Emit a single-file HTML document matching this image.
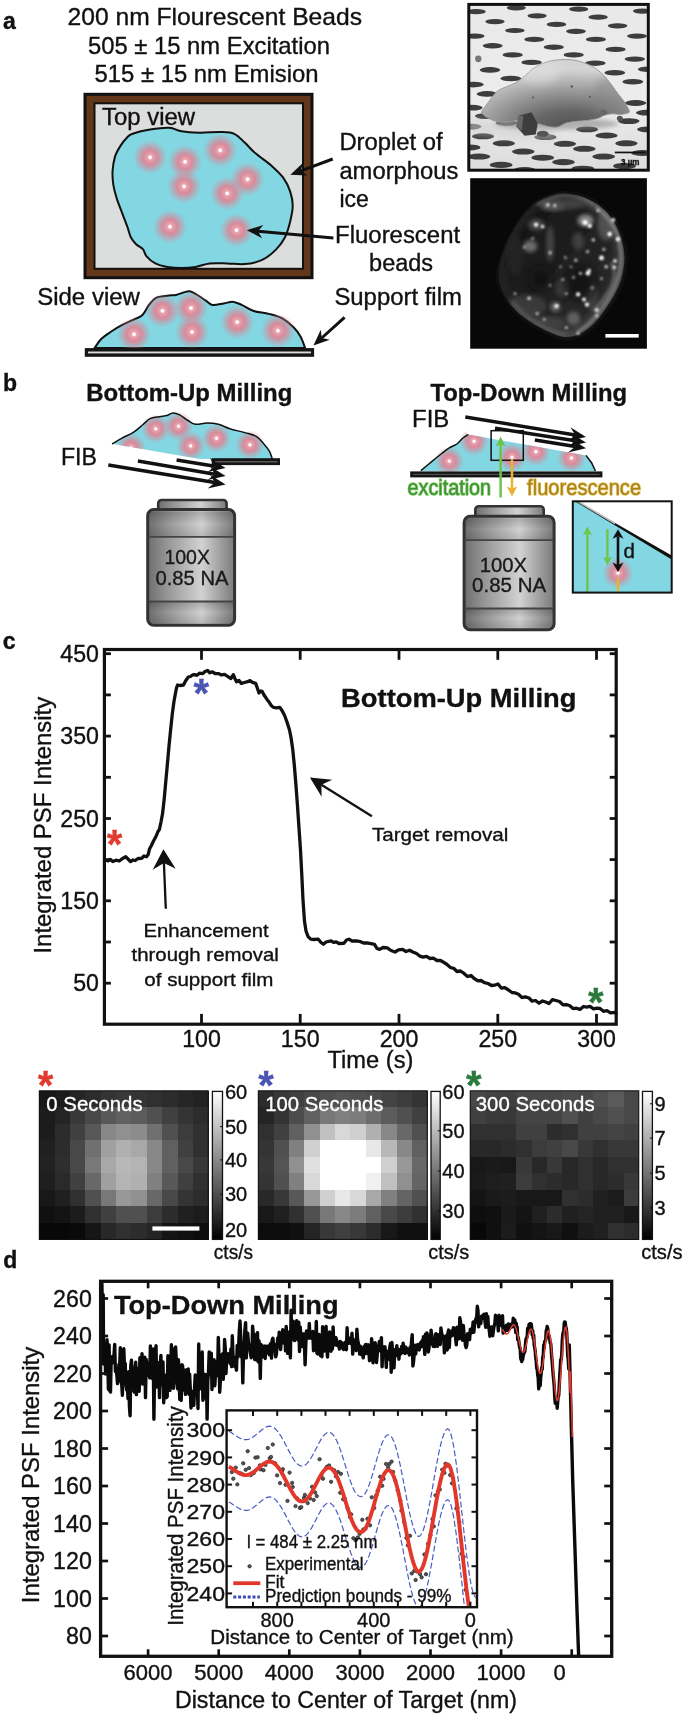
<!DOCTYPE html>
<html><head><meta charset="utf-8"><title>Figure</title>
<style>
html,body{margin:0;padding:0;background:#fff}
svg{display:block;font-family:"Liberation Sans",Arial,Helvetica,sans-serif;will-change:transform}
</style></head><body>
<svg width="685" height="1717" viewBox="0 0 685 1717">
<defs>
<radialGradient id="bead"><stop offset="0" stop-color="#fff"/><stop offset="0.07" stop-color="#fff"/><stop offset="0.15" stop-color="#eaa3b0"/><stop offset="0.42" stop-color="#dc8797" stop-opacity="0.95"/><stop offset="0.7" stop-color="#d98596" stop-opacity="0.45"/><stop offset="1" stop-color="#d98596" stop-opacity="0"/></radialGradient>
<clipPath id="semclip"><rect x="468.8" y="4.4" width="179.5" height="165.8"/></clipPath>
<linearGradient id="sembg" x1="0" y1="0" x2="0" y2="1"><stop offset="0" stop-color="#e9e9e9"/><stop offset="0.6" stop-color="#ececec"/><stop offset="1" stop-color="#dcdcdc"/></linearGradient>
<radialGradient id="dome" cx="0.3" cy="0.25" r="0.85" fx="0.22" fy="0.2"><stop offset="0" stop-color="#d0d0d0"/><stop offset="0.35" stop-color="#b4b4b4"/><stop offset="0.7" stop-color="#858585"/><stop offset="1" stop-color="#5c5c5c"/></radialGradient>
<filter id="b1" x="-10%" y="-10%" width="120%" height="120%"><feGaussianBlur stdDeviation="0.7"/></filter>
<filter id="b15" x="-20%" y="-20%" width="140%" height="140%"><feGaussianBlur stdDeviation="1.4"/></filter>
<filter id="b25" x="-20%" y="-20%" width="140%" height="140%"><feGaussianBlur stdDeviation="3"/></filter>
<filter id="b11" x="-20%" y="-20%" width="140%" height="140%"><feGaussianBlur stdDeviation="1"/></filter>
<filter id="b2" x="-20%" y="-20%" width="140%" height="140%"><feGaussianBlur stdDeviation="2"/></filter>
<filter id="b3" x="-30%" y="-30%" width="160%" height="160%"><feGaussianBlur stdDeviation="4"/></filter>
<clipPath id="domeclip"><path d="M562.1 59.6C566.7 59.5 571.3 59.5 576 60.5C580.6 61.4 585.7 63.2 589.8 65.2C594 67.2 597.7 69.9 600.9 72.7C604.2 75.5 606.5 78.4 609.2 81.8C612 85.3 615.1 90 617.6 93.3C620.1 96.6 622.4 99 624.2 101.6C626.1 104.3 627.9 107.6 628.7 109.4C629.4 111.3 630 111.9 628.7 112.7C627.3 113.6 622.9 114.2 620.3 114.4C617.8 114.6 615.9 113.8 613.4 113.8C610.9 113.9 607.6 114.2 605.1 115C602.5 115.7 601.2 117.4 598.1 118.3C595.1 119.2 590.8 120 587.1 120.5C583.4 121 579.4 120.9 576 121.3C572.5 121.8 569.3 122.1 566.2 123C563.2 123.9 560.9 126.3 557.9 126.9C554.9 127.5 551.5 127.1 548.2 126.6C545 126.1 542 124.7 538.5 123.8C535 123 531.1 122.2 527.4 121.6C523.7 121.1 519.8 120.4 516.3 120.5C512.9 120.6 510.1 122.1 506.6 122.2C503.1 122.3 498.5 121.7 495.5 121.1C492.5 120.4 490.9 119.7 488.6 118.3C486.3 116.9 482.3 114.5 481.6 112.7C481 111 482.9 110 484.4 107.7C485.9 105.5 488.2 102.3 490.5 99.4C492.8 96.6 494.2 93.2 498.3 90.5C502.4 87.8 510.5 85.6 514.9 83.2C519.3 80.8 521.4 78.8 524.6 76.3C527.9 73.7 530.4 70.4 534.3 68C538.3 65.5 543.6 63 548.2 61.6C552.8 60.2 557.5 59.8 562.1 59.6Z"/></clipPath>
<radialGradient id="domeg" cx="0.6" cy="1.0" r="0.86"><stop offset="0" stop-color="#505050"/><stop offset="0.3" stop-color="#686868"/><stop offset="0.55" stop-color="#8e8e8e"/><stop offset="0.78" stop-color="#b2b2b2"/><stop offset="0.95" stop-color="#cecece"/><stop offset="1" stop-color="#d4d4d4"/></radialGradient>
<clipPath id="flclip"><rect x="470.2" y="178.2" width="176.7" height="170.5"/></clipPath>
<radialGradient id="blob" cx="0.52" cy="0.5" r="0.5"><stop offset="0" stop-color="#2c2c2c"/><stop offset="0.75" stop-color="#343434"/><stop offset="0.92" stop-color="#3e3e3e"/><stop offset="1" stop-color="#2a2a2a"/></radialGradient>
<clipPath id="blobclip"><path d="M561.8 193.2C566.8 193 572.7 194 578.1 195.5C583.6 197.1 589.6 199.6 594.5 202.5C599.4 205.4 603.6 208.9 607.3 213C611 217.1 614.2 222 616.7 227.1C619.2 232.1 621.2 238 622.5 243.4C623.8 248.9 624.6 253.9 624.4 259.8C624.2 265.6 623 272.6 621.4 278.5C619.7 284.3 617.3 289.4 614.3 294.8C611.4 300.3 607.5 306.1 603.8 311.2C600.1 316.2 596.4 321.3 592.1 325.2C587.9 329.1 582.8 332.6 578.1 334.5C573.5 336.5 568.8 337.3 564.1 336.9C559.4 336.5 554.8 334.1 550.1 332.2C545.4 330.2 540.7 327.9 536.1 325.2C531.4 322.5 526.3 319.3 522.1 315.8C517.8 312.3 513.7 308.4 510.4 304.2C507.1 299.9 504.1 294.8 502.2 290.1C500.2 285.5 498.9 281.2 498.7 276.1C498.5 271.1 499.7 265.2 501 259.8C502.4 254.3 504.7 248.5 506.9 243.4C509 238.3 511.2 234.1 513.9 229.4C516.6 224.7 519.7 219.7 523.2 215.4C526.7 211.1 530.8 206.8 534.9 203.7C539 200.6 543.3 198.4 547.8 196.7C552.2 194.9 556.7 193.4 561.8 193.2Z"/></clipPath>
<linearGradient id="blobg" x1="0" y1="0" x2="1" y2="1"><stop offset="0" stop-color="#121212"/><stop offset="0.45" stop-color="#1e1e1e"/><stop offset="1" stop-color="#303030"/></linearGradient>
<linearGradient id="lens" x1="0" y1="0" x2="1" y2="0"><stop offset="0" stop-color="#6e6e6e"/><stop offset="0.25" stop-color="#9a9a9a"/><stop offset="0.62" stop-color="#d2d2d2"/><stop offset="0.8" stop-color="#a8a8a8"/><stop offset="1" stop-color="#7a7a7a"/></linearGradient>
<linearGradient id="lensband" x1="0" y1="0" x2="0" y2="1"><stop offset="0" stop-color="#000" stop-opacity="0.18"/><stop offset="0.5" stop-color="#000" stop-opacity="0"/><stop offset="1" stop-color="#000" stop-opacity="0.12"/></linearGradient>
<clipPath id="cutL"><polygon points="100,400 300,400 300,470 212.7,461.2 110.5,443.6 100,440"/></clipPath>
<clipPath id="cutR"><polygon points="400,480 400,420 455,420 468.3,434.5 586,455.4 620,461 620,480"/></clipPath>
<clipPath id="insb"><rect x="572.8" y="501.3" width="98.9" height="91.3"/></clipPath>
<linearGradient id="cbar" x1="0" y1="0" x2="0" y2="1"><stop offset="0" stop-color="#fff"/><stop offset="1" stop-color="#000"/></linearGradient>
<clipPath id="inclip"><rect x="226.6" y="1410.4" width="250.4" height="196.8"/></clipPath>
</defs>
<rect width="685" height="1717" fill="#fff"/>
<g id="panel-a">
<text x="3" y="28.5" font-size="23" fill="#111" font-weight="bold" stroke="#111" stroke-width="0.35" >a</text>
<text x="67.5" y="25" font-size="24" fill="#111" textLength="294.5" lengthAdjust="spacingAndGlyphs" stroke="#111" stroke-width="0.35" >200 nm Flourescent Beads</text>
<text x="88" y="53.7" font-size="24" fill="#111" textLength="242" lengthAdjust="spacingAndGlyphs" stroke="#111" stroke-width="0.35" >505 ± 15 nm Excitation</text>
<text x="94.5" y="82.3" font-size="24" fill="#111" textLength="224" lengthAdjust="spacingAndGlyphs" stroke="#111" stroke-width="0.35" >515 ± 15 nm Emision</text>
<rect x="85" y="94.3" width="227" height="183.4" fill="#63371a" stroke="#111" stroke-width="3"/>
<rect x="94.5" y="103.3" width="208.5" height="165.5" fill="#dcdddd" stroke="#111" stroke-width="2"/>
<text x="102" y="124.7" font-size="23" fill="#111" textLength="93" lengthAdjust="spacingAndGlyphs" stroke="#111" stroke-width="0.35" >Top view</text>
<path d="M132.6 133.8C136.4 132.5 143.9 130.6 150.1 129.6C156.2 128.6 164.1 127.5 169.3 127.8C174.6 128.1 176.6 130.5 181.6 131.3C186.6 132.2 192.7 132.6 199.1 132.7C205.6 132.9 214.3 131.9 220.2 132C226 132.2 230.1 132 234.2 133.8C238.3 135.6 241.2 139.3 244.7 142.6C248.2 145.8 250.8 149.3 255.2 153.1C259.6 156.9 266.3 161.2 271 165.3C275.6 169.4 280 173.2 283.2 177.6C286.4 182 288.7 186.9 290.2 191.6C291.8 196.3 292.7 200.7 292.7 205.6C292.7 210.6 291.5 216.1 290.2 221.4C288.9 226.7 287.3 232.5 285 237.2C282.6 241.8 280 245.6 276.2 249.4C272.4 253.2 267.5 257.5 262.2 259.9C256.9 262.4 250.5 263.6 244.7 264.1C238.8 264.7 233 263.6 227.2 263.4C221.3 263.3 214.9 262.9 209.6 263.4C204.4 264 200.3 266.2 195.6 266.9C191 267.7 186.3 268 181.6 268C176.9 268 172 267.7 167.6 266.9C163.2 266.2 158.8 265.2 155.3 263.4C151.8 261.7 148.6 258.8 146.6 256.4C144.5 254.1 144.8 251.5 143.1 249.4C141.3 247.4 138.1 246.2 136.1 244.2C134 242.1 132.3 240.1 130.8 237.2C129.3 234.2 128.8 230.7 127.3 226.7C125.8 222.6 123.8 217.3 122 212.6C120.3 208 118.3 203.3 116.8 198.6C115.3 193.9 114 189.3 113.3 184.6C112.6 179.9 112.3 175.3 112.6 170.6C112.9 165.9 113.8 160.7 115 156.6C116.3 152.5 118.3 149.3 120.3 146.1C122.3 142.8 125.3 139.3 127.3 137.3C129.3 135.3 128.8 135.1 132.6 133.8Z" fill="#83d7e2" stroke="#111" stroke-width="2"/>
<circle cx="150.1" cy="157.3" r="17" fill="url(#bead)"/>
<circle cx="185.1" cy="161.8" r="17" fill="url(#bead)"/>
<circle cx="220.2" cy="150.3" r="17" fill="url(#bead)"/>
<circle cx="184.1" cy="186.4" r="17" fill="url(#bead)"/>
<circle cx="247.5" cy="179.3" r="17" fill="url(#bead)"/>
<circle cx="227.2" cy="193.4" r="17" fill="url(#bead)"/>
<circle cx="170" cy="226.7" r="17" fill="url(#bead)"/>
<circle cx="236.6" cy="230.2" r="17" fill="url(#bead)"/>
<line x1="332.7" y1="159" x2="300.8" y2="170.9" stroke="#111" stroke-width="3"/>
<polygon points="290.3,174.8 302.9,162.9 300.8,170.9 307.6,175.5" fill="#111"/>
<line x1="333.4" y1="237.9" x2="258" y2="231.2" stroke="#111" stroke-width="3"/>
<polygon points="246.8,230.2 263.3,224.9 258,231.2 262.1,238.3" fill="#111"/>
<line x1="344.6" y1="317.4" x2="321.7" y2="338" stroke="#111" stroke-width="3"/>
<polygon points="313.4,345.5 320.8,329.8 321.7,338 329.8,339.8" fill="#111"/>
<text x="339.4" y="150" font-size="23" fill="#111" textLength="103.3" lengthAdjust="spacingAndGlyphs" stroke="#111" stroke-width="0.35" >Droplet of</text>
<text x="339.4" y="178.7" font-size="23" fill="#111" textLength="119" lengthAdjust="spacingAndGlyphs" stroke="#111" stroke-width="0.35" >amorphous</text>
<text x="339.4" y="207.4" font-size="23" fill="#111" stroke="#111" stroke-width="0.35" >ice</text>
<text x="335.1" y="243.1" font-size="23" fill="#111" textLength="125" lengthAdjust="spacingAndGlyphs" stroke="#111" stroke-width="0.35" >Fluorescent</text>
<text x="369.1" y="271.2" font-size="23" fill="#111" textLength="64" lengthAdjust="spacingAndGlyphs" stroke="#111" stroke-width="0.35" >beads</text>
<text x="334.4" y="305.2" font-size="23" fill="#111" textLength="127.5" lengthAdjust="spacingAndGlyphs" stroke="#111" stroke-width="0.35" >Support film</text>
<text x="37.2" y="304.9" font-size="23" fill="#111" textLength="102.7" lengthAdjust="spacingAndGlyphs" stroke="#111" stroke-width="0.35" >Side view</text>
<path d="M94.7 347.9C95.8 346.4 98.8 341.4 101.4 338.8C104 336.2 107.1 334.3 110.5 332C113.9 329.7 118 327.2 121.8 325.2C125.6 323.2 129.7 321.4 133.1 319.8C136.5 318.2 139.5 317.8 142.2 315.3C144.8 312.8 146.8 307.8 149 304.9C151.2 302 152.7 299.6 155.7 298.1C158.7 296.6 163.7 296.3 167.1 295.8C170.5 295.3 173.5 295.4 176.1 294.9C178.7 294.4 180.6 293.3 182.9 292.7C185.2 292.1 187.4 291 189.7 291.3C192 291.6 193.9 293 196.5 294.5C199.1 296 202.9 298.7 205.5 300.4C208.1 302.1 209.3 304.4 212.3 304.9C215.3 305.4 220.2 304 223.6 303.5C227 303 229.7 301.5 232.7 301.7C235.7 301.9 238.3 303.4 241.7 304.9C245.1 306.4 248.5 309.3 253 310.8C257.5 312.3 264 312.6 268.9 313.9C273.8 315.2 278.2 316.2 282.4 318.5C286.5 320.8 290.8 324.5 293.8 327.5C296.8 330.5 298.6 333.2 300.5 336.6C302.4 340 304.3 346 305.1 347.9Z" fill="#83d7e2" stroke="#111" stroke-width="2"/>
<circle cx="162.5" cy="310.8" r="17" fill="url(#bead)"/>
<circle cx="191" cy="308.1" r="17" fill="url(#bead)"/>
<circle cx="134" cy="334.3" r="17" fill="url(#bead)"/>
<circle cx="192" cy="332" r="17" fill="url(#bead)"/>
<circle cx="237.2" cy="322.1" r="17" fill="url(#bead)"/>
<circle cx="277.9" cy="330.7" r="17" fill="url(#bead)"/>
<rect x="84.8" y="348.1" width="229.3" height="8.7" fill="#151515"/>
<rect x="88" y="351.5" width="223" height="1.9" fill="#dcdcdc"/>
<g clip-path="url(#semclip)">
<rect x="468.8" y="4.4" width="179.5" height="165.8" fill="url(#sembg)"/>
<g filter="url(#b1)">
<ellipse cx="476.1" cy="11.7" rx="9.6" ry="2.6" fill="#3c3c3c"/>
<ellipse cx="516.3" cy="7.8" rx="9.6" ry="2.6" fill="#3c3c3c"/>
<ellipse cx="578.7" cy="9.2" rx="9.6" ry="2.6" fill="#3c3c3c"/>
<ellipse cx="537.1" cy="15.8" rx="9.7" ry="2.6" fill="#3c3c3c"/>
<ellipse cx="598.1" cy="17.2" rx="9.7" ry="2.6" fill="#3c3c3c"/>
<ellipse cx="495" cy="21.6" rx="9.7" ry="2.6" fill="#3c3c3c"/>
<ellipse cx="556.5" cy="24.4" rx="9.8" ry="2.6" fill="#3c3c3c"/>
<ellipse cx="617.6" cy="25.8" rx="9.8" ry="2.6" fill="#3c3c3c"/>
<ellipse cx="514.9" cy="30.5" rx="9.8" ry="2.6" fill="#3c3c3c"/>
<ellipse cx="576" cy="31.3" rx="9.9" ry="2.6" fill="#3c3c3c"/>
<ellipse cx="637" cy="36.1" rx="9.9" ry="2.6" fill="#3c3c3c"/>
<ellipse cx="474.7" cy="36.1" rx="9.9" ry="2.6" fill="#3c3c3c"/>
<ellipse cx="534.3" cy="39.4" rx="10" ry="2.7" fill="#3c3c3c"/>
<ellipse cx="595.9" cy="39.4" rx="10" ry="2.7" fill="#3c3c3c"/>
<ellipse cx="492.7" cy="45.8" rx="10" ry="2.7" fill="#3c3c3c"/>
<ellipse cx="553.8" cy="47.2" rx="10" ry="2.7" fill="#3c3c3c"/>
<ellipse cx="615.6" cy="49.4" rx="10.1" ry="2.7" fill="#3c3c3c"/>
<ellipse cx="512.7" cy="54.9" rx="10.1" ry="2.7" fill="#3c3c3c"/>
<ellipse cx="573.7" cy="54.9" rx="10.1" ry="2.7" fill="#3c3c3c"/>
<ellipse cx="634.8" cy="59.1" rx="10.2" ry="2.7" fill="#3c3c3c"/>
<ellipse cx="531.6" cy="62.4" rx="10.2" ry="2.7" fill="#3c3c3c"/>
<ellipse cx="595.4" cy="63.2" rx="10.2" ry="2.7" fill="#3c3c3c"/>
<ellipse cx="490" cy="69.9" rx="10.3" ry="2.8" fill="#3c3c3c"/>
<ellipse cx="614.8" cy="72.7" rx="10.4" ry="2.8" fill="#3c3c3c"/>
<ellipse cx="510.8" cy="78.5" rx="10.4" ry="2.8" fill="#3c3c3c"/>
<ellipse cx="632.8" cy="81.8" rx="10.5" ry="2.8" fill="#3c3c3c"/>
<ellipse cx="473.3" cy="84.6" rx="10.5" ry="2.8" fill="#3c3c3c"/>
<ellipse cx="642.5" cy="11.1" rx="9.6" ry="2.6" fill="#3c3c3c"/>
<ellipse cx="648.1" cy="69.3" rx="10.3" ry="2.8" fill="#3c3c3c"/>
<ellipse cx="487.2" cy="93.9" rx="10.6" ry="2.8" fill="#3c3c3c"/>
<ellipse cx="471.9" cy="107.7" rx="10.8" ry="2.9" fill="#3c3c3c"/>
<ellipse cx="635.6" cy="103" rx="10.7" ry="2.9" fill="#3c3c3c"/>
<ellipse cx="485.8" cy="116.1" rx="10.9" ry="2.9" fill="#3c3c3c"/>
<ellipse cx="628.7" cy="121.1" rx="10.9" ry="2.9" fill="#3c3c3c"/>
<ellipse cx="506.6" cy="123" rx="11" ry="2.9" fill="#3c3c3c"/>
<ellipse cx="587.1" cy="129.4" rx="11" ry="2.9" fill="#3c3c3c"/>
<ellipse cx="483" cy="136.3" rx="11.1" ry="3" fill="#3c3c3c"/>
<ellipse cx="606.5" cy="135.5" rx="11.1" ry="3" fill="#3c3c3c"/>
<ellipse cx="545.4" cy="137.1" rx="11.1" ry="3" fill="#3c3c3c"/>
<ellipse cx="503.8" cy="143.3" rx="11.2" ry="3" fill="#3c3c3c"/>
<ellipse cx="564.9" cy="143.8" rx="11.2" ry="3" fill="#3c3c3c"/>
<ellipse cx="626.4" cy="143.3" rx="11.2" ry="3" fill="#3c3c3c"/>
<ellipse cx="584.3" cy="148.8" rx="11.3" ry="3" fill="#3c3c3c"/>
<ellipse cx="523.3" cy="151.6" rx="11.3" ry="3" fill="#3c3c3c"/>
<ellipse cx="642.5" cy="153" rx="11.3" ry="3" fill="#3c3c3c"/>
<ellipse cx="478.9" cy="156.6" rx="11.4" ry="3" fill="#3c3c3c"/>
<ellipse cx="603.7" cy="156.6" rx="11.4" ry="3" fill="#3c3c3c"/>
<ellipse cx="542.7" cy="157.7" rx="11.4" ry="3" fill="#3c3c3c"/>
<ellipse cx="563.5" cy="162.1" rx="11.4" ry="3.1" fill="#3c3c3c"/>
<ellipse cx="501.1" cy="164.9" rx="11.5" ry="3.1" fill="#3c3c3c"/>
<ellipse cx="624.5" cy="166" rx="11.5" ry="3.1" fill="#3c3c3c"/>
<ellipse cx="582.9" cy="168.8" rx="11.5" ry="3.1" fill="#3c3c3c"/>
<ellipse cx="524.6" cy="170.2" rx="11.5" ry="3.1" fill="#3c3c3c"/>
<ellipse cx="648.1" cy="129.4" rx="11" ry="2.9" fill="#3c3c3c"/>
<ellipse cx="470.5" cy="126.6" rx="11" ry="2.9" fill="#3c3c3c"/>
<ellipse cx="646.7" cy="112.7" rx="10.8" ry="2.9" fill="#3c3c3c"/>
<ellipse cx="469.2" cy="147.4" rx="11.3" ry="3" fill="#3c3c3c"/>
</g>
<polygon points="465,118.3 556.5,129.4 556.5,140.5 465,132.2" fill="#cfcfcf" opacity="0.6" filter="url(#b3)"/>
<ellipse cx="556.5" cy="123.8" rx="62" ry="6" fill="#8a8a8a" opacity="0.6" filter="url(#b2)"/>
<path d="M562.1 59.6C566.7 59.5 571.3 59.5 576 60.5C580.6 61.4 585.7 63.2 589.8 65.2C594 67.2 597.7 69.9 600.9 72.7C604.2 75.5 606.5 78.4 609.2 81.8C612 85.3 615.1 90 617.6 93.3C620.1 96.6 622.4 99 624.2 101.6C626.1 104.3 627.9 107.6 628.7 109.4C629.4 111.3 630 111.9 628.7 112.7C627.3 113.6 622.9 114.2 620.3 114.4C617.8 114.6 615.9 113.8 613.4 113.8C610.9 113.9 607.6 114.2 605.1 115C602.5 115.7 601.2 117.4 598.1 118.3C595.1 119.2 590.8 120 587.1 120.5C583.4 121 579.4 120.9 576 121.3C572.5 121.8 569.3 122.1 566.2 123C563.2 123.9 560.9 126.3 557.9 126.9C554.9 127.5 551.5 127.1 548.2 126.6C545 126.1 542 124.7 538.5 123.8C535 123 531.1 122.2 527.4 121.6C523.7 121.1 519.8 120.4 516.3 120.5C512.9 120.6 510.1 122.1 506.6 122.2C503.1 122.3 498.5 121.7 495.5 121.1C492.5 120.4 490.9 119.7 488.6 118.3C486.3 116.9 482.3 114.5 481.6 112.7C481 111 482.9 110 484.4 107.7C485.9 105.5 488.2 102.3 490.5 99.4C492.8 96.6 494.2 93.2 498.3 90.5C502.4 87.8 510.5 85.6 514.9 83.2C519.3 80.8 521.4 78.8 524.6 76.3C527.9 73.7 530.4 70.4 534.3 68C538.3 65.5 543.6 63 548.2 61.6C552.8 60.2 557.5 59.8 562.1 59.6Z" fill="url(#domeg)" stroke="#9a9a9a" stroke-width="1" filter="url(#b1)"/>
<g clip-path="url(#domeclip)">
<ellipse cx="609.2" cy="96.1" rx="16" ry="20" fill="#808080" opacity="0.45" filter="url(#b3)"/>
<ellipse cx="539.9" cy="72.7" rx="20" ry="12" fill="#e2e2e2" opacity="0.5" filter="url(#b3)"/>
</g>
<polygon points="519.1,115.5 531.6,112.2 537.7,123.8 535.7,134.4 524.6,135.8 516.3,126.6" fill="#3e3e3e" filter="url(#b1)"/>
<polygon points="519.1,115.5 523.3,116.1 521.9,130.8 516.3,126.6" fill="#666" filter="url(#b1)"/>
<ellipse cx="542.7" cy="133.8" rx="6" ry="3" fill="#555" filter="url(#b1)"/>
<ellipse cx="478.3" cy="58.8" rx="3.2" ry="3.4" fill="#777" filter="url(#b1)"/>
<ellipse cx="619.8" cy="118.3" rx="3" ry="2.6" fill="#555" filter="url(#b1)"/>
<ellipse cx="603.7" cy="112.2" rx="3.4" ry="2.6" fill="#666" filter="url(#b1)"/>
<circle cx="571.8" cy="86.5" r="1.1" fill="#555"/>
<circle cx="533" cy="97.5" r="1.0" fill="#555"/>
<circle cx="589.8" cy="96.7" r="1.0" fill="#555"/>
<circle cx="571.8" cy="86.4" r="1.0" fill="#555"/>
<rect x="614.8" y="151.6" width="30.5" height="1.7" fill="#111"/>
<text x="621" y="165.4" font-size="8.5" fill="#111" font-weight="bold" textLength="18.5" lengthAdjust="spacingAndGlyphs" stroke="#111" stroke-width="0.35" >3 µm</text>
</g>
<rect x="468.8" y="4.4" width="179.5" height="165.8" fill="none" stroke="#111" stroke-width="3"/>
<rect x="470.2" y="178.2" width="176.7" height="170.5" fill="#080808"/>
<g clip-path="url(#flclip)">
<path d="M561.8 193.2C566.8 193 572.7 194 578.1 195.5C583.6 197.1 589.6 199.6 594.5 202.5C599.4 205.4 603.6 208.9 607.3 213C611 217.1 614.2 222 616.7 227.1C619.2 232.1 621.2 238 622.5 243.4C623.8 248.9 624.6 253.9 624.4 259.8C624.2 265.6 623 272.6 621.4 278.5C619.7 284.3 617.3 289.4 614.3 294.8C611.4 300.3 607.5 306.1 603.8 311.2C600.1 316.2 596.4 321.3 592.1 325.2C587.9 329.1 582.8 332.6 578.1 334.5C573.5 336.5 568.8 337.3 564.1 336.9C559.4 336.5 554.8 334.1 550.1 332.2C545.4 330.2 540.7 327.9 536.1 325.2C531.4 322.5 526.3 319.3 522.1 315.8C517.8 312.3 513.7 308.4 510.4 304.2C507.1 299.9 504.1 294.8 502.2 290.1C500.2 285.5 498.9 281.2 498.7 276.1C498.5 271.1 499.7 265.2 501 259.8C502.4 254.3 504.7 248.5 506.9 243.4C509 238.3 511.2 234.1 513.9 229.4C516.6 224.7 519.7 219.7 523.2 215.4C526.7 211.1 530.8 206.8 534.9 203.7C539 200.6 543.3 198.4 547.8 196.7C552.2 194.9 556.7 193.4 561.8 193.2Z" fill="url(#blobg)" filter="url(#b25)"/>
<g clip-path="url(#blobclip)">
<path d="M578.1 195.5C580.9 196.7 589.6 199.6 594.5 202.5C599.4 205.4 603.6 208.9 607.3 213C611 217.1 614.2 222 616.7 227.1C619.2 232.1 621.2 238 622.5 243.4C623.8 248.9 624.6 253.9 624.4 259.8C624.2 265.6 623 272.6 621.4 278.5C619.7 284.3 617.3 289.4 614.3 294.8C611.4 300.3 607.5 306.1 603.8 311.2C600.1 316.2 596.4 321.3 592.1 325.2C587.9 329.1 582.8 332.6 578.1 334.5C573.5 336.5 568.8 337.3 564.1 336.9C559.4 336.5 554.8 334.1 550.1 332.2C545.4 330.2 540.7 327.9 536.1 325.2C531.4 322.5 526.3 319.3 522.1 315.8C517.8 312.3 512.3 306.1 510.4 304.2" fill="none" stroke="#505050" stroke-width="12" filter="url(#b3)"/>
<path d="M510.4 304.2C509 301.8 504.1 294.8 502.2 290.1C500.2 285.5 498.9 281.2 498.7 276.1C498.5 271.1 499.7 265.2 501 259.8C502.4 254.3 504.7 248.5 506.9 243.4C509 238.3 511.2 234.1 513.9 229.4C516.6 224.7 519.7 219.7 523.2 215.4C526.7 211.1 530.8 206.8 534.9 203.7C539 200.6 543.3 198.4 547.8 196.7C552.2 194.9 556.7 193.4 561.8 193.2C566.8 193 575.4 195.1 578.1 195.5" fill="none" stroke="#282828" stroke-width="9" filter="url(#b3)"/>
<ellipse cx="530.2" cy="246.2" rx="7" ry="6" fill="#808080" opacity="0.8" filter="url(#b2)"/>
<ellipse cx="550.1" cy="243.4" rx="4" ry="18" fill="#505050" opacity="0.8" filter="url(#b2)"/>
<ellipse cx="585.6" cy="220.5" rx="8" ry="6" fill="#a0a0a0" opacity="0.85" filter="url(#b2)"/>
<ellipse cx="573.5" cy="318.6" rx="7" ry="7" fill="#6a6a6a" opacity="0.85" filter="url(#b2)"/>
<ellipse cx="555.2" cy="307" rx="5" ry="5" fill="#808080" opacity="0.8" filter="url(#b2)"/>
<ellipse cx="552.4" cy="206" rx="12" ry="5" fill="#707070" opacity="0.8" filter="url(#b2)"/>
<ellipse cx="526.7" cy="306.5" rx="20" ry="12" fill="#404040" opacity="0.8" filter="url(#b2)"/>
<ellipse cx="606.2" cy="224.7" rx="9" ry="16" fill="#5a5a5a" opacity="0.8" filter="url(#b2)"/>
<ellipse cx="536.1" cy="224.7" rx="8" ry="6" fill="#5a5a5a" opacity="0.8" filter="url(#b2)"/>
<ellipse cx="578.1" cy="241.1" rx="6" ry="9" fill="#484848" opacity="0.8" filter="url(#b2)"/>
<ellipse cx="561.8" cy="287.8" rx="7" ry="9" fill="#404040" opacity="0.8" filter="url(#b2)"/>
<ellipse cx="550.1" cy="322.9" rx="16" ry="7" fill="#454545" opacity="0.8" filter="url(#b2)"/>
<ellipse cx="592.1" cy="297.1" rx="6" ry="14" fill="#4a4a4a" opacity="0.7" filter="url(#b2)"/>
<ellipse cx="566.4" cy="203.7" rx="18" ry="6" fill="#484848" opacity="0.8" filter="url(#b2)"/>
<ellipse cx="515" cy="255.1" rx="8" ry="20" fill="#262626" opacity="0.8" filter="url(#b2)"/>
<ellipse cx="580.5" cy="283.1" rx="15" ry="17" fill="#0c0c0c" opacity="0.7" filter="url(#b3)"/>
<ellipse cx="540.7" cy="278.5" rx="12" ry="12" fill="#0e0e0e" opacity="0.6" filter="url(#b3)"/>
<path d="M595.4 206C597.4 208 603.7 213.4 607.1 217.7C610.5 222 613.8 226.7 616 231.7C618.2 236.8 619.4 242.6 620.2 248.1C621 253.5 621.2 259 620.7 264.4C620.1 269.9 618.8 275.3 616.9 280.8C615 286.2 612.4 291.9 609.4 297.1C606.4 302.4 602.4 307.9 598.9 312.3C595.4 316.8 591.9 320.8 588.4 324C584.9 327.3 579.6 330.4 577.9 331.7" fill="none" stroke="#a0a0a0" stroke-width="2.6" opacity="0.7" filter="url(#b15)"/>
<path d="M610.8 262.1C611.4 264 614.3 269.5 614.3 273.8C614.3 278.1 613 283.1 610.8 287.8C608.7 292.5 604.4 297.9 601.5 301.8C598.6 305.7 594.7 309.6 593.3 311.2" fill="none" stroke="#8a8a8a" stroke-width="2.6" opacity="0.6" filter="url(#b15)"/>
<path d="M536.1 204.9C538.4 203.8 545.4 200.1 550.1 198.6C554.8 197 559 195.6 564.1 195.5C569.2 195.4 575.4 196.3 580.5 197.9C585.5 199.4 592.1 203.7 594.5 204.9" fill="none" stroke="#7a7a7a" stroke-width="3" opacity="0.6" filter="url(#b15)"/>
<path d="M512.7 301.8C514.7 304 520.1 311 524.4 314.7C528.7 318.4 533.7 321.3 538.4 324C543.1 326.7 547.8 329.3 552.4 331C557.1 332.8 564.1 333.9 566.4 334.5" fill="none" stroke="#6a6a6a" stroke-width="3" opacity="0.55" filter="url(#b15)"/>
</g>
<g filter="url(#b11)">
<circle cx="536.1" cy="224.7" r="2.1" fill="#fff" opacity="1"/>
<circle cx="542.6" cy="226.6" r="1.8" fill="#fff" opacity="0.9"/>
<circle cx="547.8" cy="204.9" r="1.8" fill="#fff" opacity="0.8"/>
<circle cx="554.8" cy="205.6" r="1.7" fill="#fff" opacity="0.8"/>
<circle cx="585.1" cy="222.4" r="2.5" fill="#fff" opacity="1"/>
<circle cx="589.8" cy="225.9" r="2.1" fill="#fff" opacity="1"/>
<circle cx="609.7" cy="234.1" r="2.3" fill="#fff" opacity="1"/>
<circle cx="617.9" cy="239.2" r="2.1" fill="#fff" opacity="1"/>
<circle cx="613.2" cy="220" r="1.9" fill="#fff" opacity="0.9"/>
<circle cx="601.5" cy="257.9" r="2.4" fill="#fff" opacity="1"/>
<circle cx="615" cy="260.9" r="1.9" fill="#fff" opacity="0.9"/>
<circle cx="614.3" cy="267.2" r="1.8" fill="#fff" opacity="0.9"/>
<circle cx="606.2" cy="266.8" r="1.7" fill="#fff" opacity="0.8"/>
<circle cx="587.9" cy="273.3" r="2.3" fill="#fff" opacity="1"/>
<circle cx="589.3" cy="270.5" r="1.8" fill="#fff" opacity="0.9"/>
<circle cx="580.5" cy="273.3" r="1.6" fill="#fff" opacity="0.7"/>
<circle cx="573.5" cy="277.3" r="1.5" fill="#fff" opacity="0.6"/>
<circle cx="565.3" cy="257.4" r="1.5" fill="#fff" opacity="0.6"/>
<circle cx="575.8" cy="260.2" r="1.6" fill="#fff" opacity="0.7"/>
<circle cx="593.3" cy="239.9" r="1.7" fill="#fff" opacity="0.8"/>
<circle cx="587.5" cy="251.6" r="1.6" fill="#fff" opacity="0.7"/>
<circle cx="550.1" cy="252.8" r="1.7" fill="#fff" opacity="0.7"/>
<circle cx="578.1" cy="294.3" r="2.1" fill="#fff" opacity="1"/>
<circle cx="584" cy="299.5" r="1.9" fill="#fff" opacity="1"/>
<circle cx="587" cy="304.6" r="2.1" fill="#fff" opacity="1"/>
<circle cx="596.8" cy="310" r="1.9" fill="#fff" opacity="0.9"/>
<circle cx="556.6" cy="306" r="2.1" fill="#fff" opacity="1"/>
<circle cx="529.1" cy="298.3" r="1.8" fill="#fff" opacity="0.8"/>
<circle cx="537.2" cy="313.5" r="1.6" fill="#fff" opacity="0.7"/>
<circle cx="544.3" cy="319.3" r="1.5" fill="#fff" opacity="0.6"/>
<circle cx="566.4" cy="327.5" r="1.6" fill="#fff" opacity="0.7"/>
<circle cx="578.1" cy="333.4" r="1.6" fill="#fff" opacity="0.7"/>
<circle cx="515" cy="293.6" r="1.5" fill="#fff" opacity="0.6"/>
<circle cx="562.9" cy="279.6" r="1.5" fill="#fff" opacity="0.6"/>
<circle cx="566.4" cy="293.6" r="1.5" fill="#fff" opacity="0.6"/>
<circle cx="603.8" cy="249.3" r="1.6" fill="#fff" opacity="0.7"/>
<circle cx="524.4" cy="246.9" r="1.5" fill="#fff" opacity="0.5"/>
<circle cx="532.6" cy="238.3" r="1.5" fill="#fff" opacity="0.5"/>
<circle cx="598" cy="210.7" r="1.6" fill="#fff" opacity="0.7"/>
<circle cx="596.8" cy="315.8" r="1.6" fill="#fff" opacity="0.7"/>
<circle cx="571.1" cy="266.8" r="1.4" fill="#fff" opacity="0.5"/>
<circle cx="560.6" cy="266.8" r="1.4" fill="#fff" opacity="0.5"/>
<circle cx="550.1" cy="285.5" r="1.4" fill="#fff" opacity="0.5"/>
<circle cx="601.5" cy="278.5" r="1.5" fill="#fff" opacity="0.6"/>
<circle cx="592.1" cy="287.8" r="1.5" fill="#fff" opacity="0.6"/>
</g>
</g>
<rect x="605.4" y="334" width="33.3" height="3.6" fill="#fff"/>
</g>
<g id="panel-b">
<text x="3" y="391" font-size="23" fill="#111" font-weight="bold" stroke="#111" stroke-width="0.35" >b</text>
<text x="86.3" y="401.1" font-size="23" fill="#111" font-weight="bold" textLength="206" lengthAdjust="spacingAndGlyphs" stroke="#111" stroke-width="0.35" >Bottom-Up Milling</text>
<text x="430.4" y="401.1" font-size="23" fill="#111" font-weight="bold" textLength="196.6" lengthAdjust="spacingAndGlyphs" stroke="#111" stroke-width="0.35" >Top-Down Milling</text>
<g clip-path="url(#cutL)">
<path d="M112.1 444C113.7 443.1 118.1 440.2 121.6 438.3C125.1 436.4 129.5 434.8 133 432.6C136.5 430.4 139.7 427.3 142.5 425C145.3 422.7 147.2 420 150 418.6C152.8 417.2 156.7 417.2 159.5 416.7C162.3 416.2 164.9 416.1 167.1 415.5C169.3 414.9 170.7 413 172.8 412.9C174.9 412.8 177.2 413.5 179.7 414.8C182.2 416.1 185.3 418.9 188 420.5C190.7 422.1 192.4 423.9 195.6 424.3C198.8 424.7 203.2 423.1 207 423.1C210.8 423.1 214.6 423.4 218.4 424.3C222.2 425.2 225.4 427.4 229.8 428.8C234.2 430.2 240.5 431.3 244.9 432.6C249.3 433.9 253.1 434.5 256.3 436.4C259.5 438.3 261.7 441.5 263.9 444C266.1 446.5 268.2 449.1 269.6 451.6C271 454.1 271.9 457.8 272.3 459L112 459Z" fill="#83d7e2"/>
<circle cx="155.7" cy="428.8" r="14.5" fill="url(#bead)"/>
<circle cx="178.5" cy="426.2" r="14.5" fill="url(#bead)"/>
<circle cx="131.1" cy="447.8" r="14.5" fill="url(#bead)"/>
<circle cx="190.7" cy="445.9" r="14.5" fill="url(#bead)"/>
<circle cx="216.5" cy="438.3" r="14.5" fill="url(#bead)"/>
<circle cx="249.9" cy="444.8" r="14.5" fill="url(#bead)"/>
</g>
<path d="M112.1 444C113.7 443.1 118.1 440.2 121.6 438.3C125.1 436.4 129.5 434.8 133 432.6C136.5 430.4 139.7 427.3 142.5 425C145.3 422.7 147.2 420 150 418.6C152.8 417.2 156.7 417.2 159.5 416.7C162.3 416.2 164.9 416.1 167.1 415.5C169.3 414.9 170.7 413 172.8 412.9C174.9 412.8 177.2 413.5 179.7 414.8C182.2 416.1 185.3 418.9 188 420.5C190.7 422.1 192.4 423.9 195.6 424.3C198.8 424.7 203.2 423.1 207 423.1C210.8 423.1 214.6 423.4 218.4 424.3C222.2 425.2 225.4 427.4 229.8 428.8C234.2 430.2 240.5 431.3 244.9 432.6C249.3 433.9 253.1 434.5 256.3 436.4C259.5 438.3 261.7 441.5 263.9 444C266.1 446.5 268.2 449.1 269.6 451.6C271 454.1 271.9 457.8 272.3 459" fill="none" stroke="#111" stroke-width="1.5"/>
<rect x="211.7" y="458.2" width="68.3" height="6.9" fill="#151515"/>
<rect x="214" y="461.2" width="63.5" height="1.2" fill="#6a6a6a"/>
<text x="60.9" y="464.9" font-size="23" fill="#111" textLength="36" lengthAdjust="spacingAndGlyphs" stroke="#111" stroke-width="0.35" >FIB</text>
<line x1="108.3" y1="465" x2="214.9" y2="482.6" stroke="#111" stroke-width="3.5"/>
<polygon points="225.6,484.4 207.7,488.5 214.9,482.6 210,474.7" fill="#111"/>
<line x1="137.9" y1="461" x2="214.9" y2="474.3" stroke="#111" stroke-width="3.5"/>
<polygon points="225.6,476.1 207.7,480.1 214.9,474.3 210,466.3" fill="#111"/>
<line x1="176.6" y1="460" x2="214.9" y2="466.2" stroke="#111" stroke-width="3.5"/>
<polygon points="225.6,467.9 207.7,472.1 214.9,466.2 209.9,458.3" fill="#111"/>
<rect x="158.2" y="500" width="68.4" height="15.5" rx="3.5" fill="url(#lens)" stroke="#333" stroke-width="2.6"/>
<rect x="147.7" y="509.5" width="86.9" height="115.7" rx="6" fill="url(#lens)" stroke="#333" stroke-width="3"/>
<rect x="149.2" y="511.5" width="83.9" height="25.3" fill="url(#lensband)"/>
<rect x="149.2" y="601.5" width="83.9" height="21.7" fill="url(#lensband)"/>
<line x1="148.7" y1="536.8" x2="233.6" y2="536.8" stroke="#444" stroke-width="1.8"/>
<line x1="148.7" y1="601.5" x2="233.6" y2="601.5" stroke="#444" stroke-width="1.8"/>
<text x="164.4" y="564.1" font-size="19.5" fill="#1a1a1a" textLength="45.5" lengthAdjust="spacingAndGlyphs" stroke="#1a1a1a" stroke-width="0.35" >100X</text>
<text x="155.5" y="584.6" font-size="19.5" fill="#1a1a1a" textLength="73.1" lengthAdjust="spacingAndGlyphs" stroke="#1a1a1a" stroke-width="0.35" >0.85 NA</text>
<g clip-path="url(#cutR)">
<path d="M420.9 470.6C422.8 469 428.8 464 432.3 461.1C435.8 458.2 438.9 455.7 441.7 453.5C444.5 451.3 446.8 449.4 449.3 447.8C451.8 446.2 454.7 445.6 456.9 444C459.1 442.4 460.7 439.9 462.6 438.3C464.5 436.7 467.4 435.1 468.3 434.5L500 420L586 440 L586 455.4 L591.7 463 L595.4 471 L420.9 471Z" fill="#83d7e2"/>
<circle cx="474" cy="441.3" r="14.5" fill="url(#bead)"/>
<circle cx="449.3" cy="461.1" r="14.5" fill="url(#bead)"/>
<circle cx="512" cy="457.3" r="14.5" fill="url(#bead)"/>
<circle cx="535.9" cy="451.6" r="14.5" fill="url(#bead)"/>
<circle cx="571.5" cy="458" r="14.5" fill="url(#bead)"/>
</g>
<path d="M420.9 470.6C422.8 469 428.8 464 432.3 461.1C435.8 458.2 438.9 455.7 441.7 453.5C444.5 451.3 446.8 449.4 449.3 447.8C451.8 446.2 454.7 445.6 456.9 444C459.1 442.4 460.7 439.9 462.6 438.3C464.5 436.7 467.4 435.1 468.3 434.5" fill="none" stroke="#111" stroke-width="1.5"/>
<path d="M586 455.4 L591.7 463 L595.4 471" fill="none" stroke="#111" stroke-width="1.5"/>
<rect x="410.2" y="471.4" width="192.2" height="6" fill="#151515"/>
<rect x="413" y="473.9" width="186.5" height="1" fill="#5a5a5a"/>
<text x="412.1" y="426.9" font-size="23" fill="#111" textLength="37.2" lengthAdjust="spacingAndGlyphs" stroke="#111" stroke-width="0.35" >FIB</text>
<line x1="465.3" y1="416.9" x2="575.3" y2="435.1" stroke="#111" stroke-width="3.5"/>
<polygon points="586,436.9 568.1,441 575.3,435.1 570.4,427.2" fill="#111"/>
<line x1="495" y1="428.2" x2="575.3" y2="440.7" stroke="#111" stroke-width="3.5"/>
<polygon points="586,442.4 568.1,446.7 575.3,440.7 570.3,432.9" fill="#111"/>
<line x1="534.9" y1="439.9" x2="575.3" y2="446.5" stroke="#111" stroke-width="3.5"/>
<polygon points="586,448.2 568.1,452.4 575.3,446.5 570.3,438.6" fill="#111"/>
<rect x="491.1" y="430.7" width="32.2" height="29.6" fill="none" stroke="#111" stroke-width="1.5"/>
<line x1="500.6" y1="497.5" x2="500.6" y2="444.4" stroke="#6fc34a" stroke-width="2.5"/>
<polygon points="500.6,436.4 505.6,446.4 500.6,444.4 495.6,446.4" fill="#6fc34a"/>
<line x1="512" y1="459.2" x2="512" y2="488.5" stroke="#e9b232" stroke-width="2.5"/>
<polygon points="512,496.5 506.8,486.5 512,488.5 517.2,486.5" fill="#e9b232"/>
<text x="407.6" y="495.2" font-size="21.5" fill="#3f9233" textLength="83.5" lengthAdjust="spacingAndGlyphs" stroke="#86cc6e" stroke-width="1.5" stroke-linejoin="round" paint-order="stroke">excitation</text>
<text x="527.1" y="495.2" font-size="21.5" fill="#a8821a" textLength="114" lengthAdjust="spacingAndGlyphs" stroke="#e6c25c" stroke-width="1.5" stroke-linejoin="round" paint-order="stroke">fluorescence</text>
<rect x="475.3" y="506.2" width="68.4" height="16.1" rx="3.5" fill="url(#lens)" stroke="#333" stroke-width="2.6"/>
<rect x="464.1" y="516.3" width="90" height="113.5" rx="6" fill="url(#lens)" stroke="#333" stroke-width="3"/>
<rect x="465.6" y="518.3" width="87" height="21.9" fill="url(#lensband)"/>
<rect x="465.6" y="608.5" width="87" height="19.3" fill="url(#lensband)"/>
<line x1="465.1" y1="540.2" x2="553.1" y2="540.2" stroke="#444" stroke-width="1.8"/>
<line x1="465.1" y1="608.5" x2="553.1" y2="608.5" stroke="#444" stroke-width="1.8"/>
<text x="479.7" y="571.7" font-size="19.5" fill="#1a1a1a" textLength="47.4" lengthAdjust="spacingAndGlyphs" stroke="#1a1a1a" stroke-width="0.35" >100X</text>
<text x="472.1" y="592.2" font-size="19.5" fill="#1a1a1a" textLength="74" lengthAdjust="spacingAndGlyphs" stroke="#1a1a1a" stroke-width="0.35" >0.85 NA</text>
<rect x="572.8" y="501.3" width="98.9" height="91.3" fill="#fff"/>
<g clip-path="url(#insb)">
<polygon points="572.8,499.2 671.7,557.9 671.7,592.6 572.8,592.6" fill="#83d7e2"/>
<polygon points="572.8,498.6 572.8,500 671.7,559.6 671.7,555.6" fill="#111"/>
<polygon points="572.8,497.6 572.8,499.4 615,524.5 615,522.6" fill="#bbb"/>
</g>
<circle cx="618" cy="573" r="15.5" fill="url(#bead)"/>
<line x1="618" y1="578.1" x2="618" y2="591.4" stroke="#e9b232" stroke-width="2.6"/>
<line x1="587.4" y1="592.2" x2="587.4" y2="533.3" stroke="#6fc34a" stroke-width="2.4"/>
<polygon points="587.4,526.5 591.9,535 587.4,533.3 582.9,535" fill="#6fc34a"/>
<line x1="607.4" y1="529.2" x2="607.4" y2="558.4" stroke="#6fc34a" stroke-width="2.4"/>
<polygon points="607.4,565.2 602.9,556.7 607.4,558.4 611.9,556.7" fill="#6fc34a"/>
<line x1="618" y1="550" x2="618" y2="536.3" stroke="#111" stroke-width="2.6"/>
<polygon points="618,529.2 623.5,538.7 618,536.3 612.5,538.7" fill="#111"/>
<line x1="618" y1="550" x2="618" y2="565" stroke="#111" stroke-width="2.6"/>
<polygon points="618,572.1 612.5,562.6 618,565 623.5,562.6" fill="#111"/>
<text x="623.4" y="557.9" font-size="20.5" fill="#111" stroke="#111" stroke-width="0.35" >d</text>
<rect x="572.8" y="501.3" width="98.9" height="91.3" fill="none" stroke="#111" stroke-width="2"/>
</g>
<g id="panel-c">
<text x="2.8" y="648.6" font-size="23" fill="#111" font-weight="bold" stroke="#111" stroke-width="0.35" >c</text>
<polyline points="105.4,860 108,860.8 110.5,859.5 112.8,861.6 116,860.2 119.2,861 122.5,858.5 125.7,856.8 128,859 130.5,861.6 133,860 135.3,860.5 138,858.5 141.7,858.4 144,856 146.5,856.8 148.2,854.5 149.5,849 151.4,845.5 153.5,841 156.2,835.9 158,831.5 159.4,829.5 161,822 162.6,813.4 164.2,799 165.8,781.3 167.4,764 169,746 170.6,730 172.3,713.9 173.9,702 175.5,693 176.6,687.5 177.7,685 180,685.5 183.5,685 185.5,681 188.3,677 190.5,676.5 192.5,675 194.7,674.7 197,675.3 199.5,673.2 202.8,673.7 205,671.5 207.6,670.5 209.8,672.8 212.4,671.8 215,673.5 218.8,673.7 221.5,675 224.5,674.3 228.5,677 231,678.5 233.3,674.7 234.9,678.5 236.5,681.7 239,680.5 241.3,683.4 244.5,682.5 247.7,681.7 250,680.6 252.5,682.4 255.7,683.4 257.3,688 259,693 260.6,691 262.2,691.4 264,695 267,699.4 269,702 271,705.2 273.4,707.4 276.5,707.8 279.8,707.4 282.3,711 284.6,715.5 287,722 289.5,730 291.1,738 292.7,749.2 294.3,765 295.9,784.5 297.5,806 299.1,829.5 300.5,850 301.8,875 303,900 304.5,921.3 306,931 308.1,936.6 310.7,939.2 314,939.5 318.3,939.2 321,942.5 323.4,944.3 326,942 331.1,940.8 333.5,942.3 336.2,941.8 339,943.5 343.9,943.3 346.5,940 349,939.2 352,941 356.6,940.8 360,941.5 363.5,943 366.9,942.8 371,943.6 374.5,944.3 377,948.5 379.6,949.4 383,947.5 387.3,947.9 391,950.5 395,952 398.5,949.8 402.6,949.4 406,951.5 409.5,950.2 412.9,952 416.5,953.5 420,956.2 423.1,957.1 426.5,956.4 430,958.5 433.3,958.1 437,960.5 440.5,960.5 443.5,962.2 447,964.5 450.5,967.5 453.7,968.3 457,971.5 460.5,971 464,973.4 467.5,976.5 471,975.5 474.2,978.5 478,980.8 481,980.5 484.4,982.6 488,983.5 491.5,985.5 494.6,985.2 498,984 501.5,988.2 504.8,987.7 508.5,990 512,992.5 515,992.9 518.5,994.2 522,997.6 525.3,996.9 529,998 532,1001.2 535.5,1000.5 539,1003.2 542.5,1001 545.7,1002 549,1003.5 552.5,999.6 555.9,1000.5 559.5,1001.5 563,1004.9 566.1,1004.6 569.5,1005.5 573,1008.6 576.4,1008.2 580,1009.4 583.5,1006.5 586.6,1007.2 590,1006.4 593.5,1008.8 596.8,1008.2 600,1008.5 603.5,1011.3 607,1010.7 610.5,1012.8 614.7,1012.3 616,1013.4" fill="none" stroke="#111" stroke-width="3.3" stroke-linejoin="round" stroke-linecap="round"/>
<rect x="104.4" y="649.5" width="511.8" height="374.7" fill="none" stroke="#111" stroke-width="3.2"/>
<line x1="104.4" y1="983.2" x2="110.9" y2="983.2" stroke="#111" stroke-width="2.8"/>
<line x1="616.2" y1="983.2" x2="609.7" y2="983.2" stroke="#111" stroke-width="2.8"/>
<line x1="104.4" y1="942" x2="110.9" y2="942" stroke="#111" stroke-width="2.8"/>
<line x1="616.2" y1="942" x2="609.7" y2="942" stroke="#111" stroke-width="2.8"/>
<line x1="104.4" y1="900.8" x2="110.9" y2="900.8" stroke="#111" stroke-width="2.8"/>
<line x1="616.2" y1="900.8" x2="609.7" y2="900.8" stroke="#111" stroke-width="2.8"/>
<line x1="104.4" y1="859.6" x2="110.9" y2="859.6" stroke="#111" stroke-width="2.8"/>
<line x1="616.2" y1="859.6" x2="609.7" y2="859.6" stroke="#111" stroke-width="2.8"/>
<line x1="104.4" y1="818.5" x2="110.9" y2="818.5" stroke="#111" stroke-width="2.8"/>
<line x1="616.2" y1="818.5" x2="609.7" y2="818.5" stroke="#111" stroke-width="2.8"/>
<line x1="104.4" y1="777.3" x2="110.9" y2="777.3" stroke="#111" stroke-width="2.8"/>
<line x1="616.2" y1="777.3" x2="609.7" y2="777.3" stroke="#111" stroke-width="2.8"/>
<line x1="104.4" y1="736.1" x2="110.9" y2="736.1" stroke="#111" stroke-width="2.8"/>
<line x1="616.2" y1="736.1" x2="609.7" y2="736.1" stroke="#111" stroke-width="2.8"/>
<line x1="104.4" y1="694.9" x2="110.9" y2="694.9" stroke="#111" stroke-width="2.8"/>
<line x1="616.2" y1="694.9" x2="609.7" y2="694.9" stroke="#111" stroke-width="2.8"/>
<line x1="104.4" y1="653.7" x2="110.9" y2="653.7" stroke="#111" stroke-width="2.8"/>
<line x1="616.2" y1="653.7" x2="609.7" y2="653.7" stroke="#111" stroke-width="2.8"/>
<text x="99" y="991.4" font-size="23.2" fill="#111" text-anchor="end" stroke="#111" stroke-width="0.35" >50</text>
<text x="99" y="909" font-size="23.2" fill="#111" text-anchor="end" stroke="#111" stroke-width="0.35" >150</text>
<text x="99" y="826.7" font-size="23.2" fill="#111" text-anchor="end" stroke="#111" stroke-width="0.35" >250</text>
<text x="99" y="744.3" font-size="23.2" fill="#111" text-anchor="end" stroke="#111" stroke-width="0.35" >350</text>
<text x="99" y="661.9" font-size="23.2" fill="#111" text-anchor="end" stroke="#111" stroke-width="0.35" >450</text>
<line x1="201.5" y1="1024.2" x2="201.5" y2="1013.9" stroke="#111" stroke-width="2.8"/>
<line x1="201.5" y1="649.5" x2="201.5" y2="659.8" stroke="#111" stroke-width="2.8"/>
<text x="201.5" y="1047" font-size="23.2" fill="#111" text-anchor="middle" stroke="#111" stroke-width="0.35" >100</text>
<line x1="300.2" y1="1024.2" x2="300.2" y2="1013.9" stroke="#111" stroke-width="2.8"/>
<line x1="300.2" y1="649.5" x2="300.2" y2="659.8" stroke="#111" stroke-width="2.8"/>
<text x="300.2" y="1047" font-size="23.2" fill="#111" text-anchor="middle" stroke="#111" stroke-width="0.35" >150</text>
<line x1="399" y1="1024.2" x2="399" y2="1013.9" stroke="#111" stroke-width="2.8"/>
<line x1="399" y1="649.5" x2="399" y2="659.8" stroke="#111" stroke-width="2.8"/>
<text x="399" y="1047" font-size="23.2" fill="#111" text-anchor="middle" stroke="#111" stroke-width="0.35" >200</text>
<line x1="497.8" y1="1024.2" x2="497.8" y2="1013.9" stroke="#111" stroke-width="2.8"/>
<line x1="497.8" y1="649.5" x2="497.8" y2="659.8" stroke="#111" stroke-width="2.8"/>
<text x="497.8" y="1047" font-size="23.2" fill="#111" text-anchor="middle" stroke="#111" stroke-width="0.35" >250</text>
<line x1="596.5" y1="1024.2" x2="596.5" y2="1013.9" stroke="#111" stroke-width="2.8"/>
<line x1="596.5" y1="649.5" x2="596.5" y2="659.8" stroke="#111" stroke-width="2.8"/>
<text x="596.5" y="1047" font-size="23.2" fill="#111" text-anchor="middle" stroke="#111" stroke-width="0.35" >300</text>
<text x="327.4" y="1068.1" font-size="23" fill="#111" textLength="86" lengthAdjust="spacingAndGlyphs" stroke="#111" stroke-width="0.35" >Time (s)</text>
<text transform="translate(50.7 825.2) rotate(-90)" text-anchor="middle" font-size="24" fill="#111" textLength="256.7" lengthAdjust="spacingAndGlyphs" stroke="#111" stroke-width="0.35">Integrated PSF Intensity</text>
<text x="341.1" y="707.1" font-size="26" fill="#111" font-weight="bold" textLength="235.3" lengthAdjust="spacingAndGlyphs" stroke="#111" stroke-width="0.35" >Bottom-Up Milling</text>
<text x="371.9" y="841.1" font-size="19" fill="#111" textLength="136.5" lengthAdjust="spacingAndGlyphs" stroke="#111" stroke-width="0.35" >Target removal</text>
<text x="143.4" y="936.6" font-size="19" fill="#111" textLength="125.2" lengthAdjust="spacingAndGlyphs" stroke="#111" stroke-width="0.35" >Enhancement</text>
<text x="131.5" y="961" font-size="19" fill="#111" textLength="147.4" lengthAdjust="spacingAndGlyphs" stroke="#111" stroke-width="0.35" >through removal</text>
<text x="144.3" y="985.7" font-size="19" fill="#111" textLength="129.1" lengthAdjust="spacingAndGlyphs" stroke="#111" stroke-width="0.35" >of support film</text>
<line x1="165.8" y1="908.7" x2="163.9" y2="862.9" stroke="#111" stroke-width="2.3"/>
<polygon points="163.4,849.3 175.7,868.8 163.9,862.9 152.7,869.7" fill="#111"/>
<line x1="371.9" y1="816.3" x2="321.4" y2="784.8" stroke="#111" stroke-width="2.3"/>
<polygon points="309.9,777.6 332.2,779.7 321.4,784.8 321.6,796.7" fill="#111"/>
<text x="114.5" y="858.3" font-size="40" fill="#e23a30" text-anchor="middle" font-weight="bold" stroke="#e23a30" stroke-width="0.35" >*</text>
<text x="201.2" y="707.4" font-size="40" fill="#4a55b3" text-anchor="middle" font-weight="bold" stroke="#4a55b3" stroke-width="0.35" >*</text>
<text x="595.8" y="1016.1" font-size="40" fill="#2a7a3c" text-anchor="middle" font-weight="bold" stroke="#2a7a3c" stroke-width="0.35" >*</text>
<rect x="39.3" y="1090.8" width="168.9" height="148.6" fill="#222"/>
<g shape-rendering="crispEdges">
<rect x="39.3" y="1090.8" width="16" height="17.1" fill="rgb(24,24,24)"/>
<rect x="54.7" y="1090.8" width="16" height="17.1" fill="rgb(28,28,28)"/>
<rect x="70" y="1090.8" width="16" height="17.1" fill="rgb(36,36,36)"/>
<rect x="85.4" y="1090.8" width="16" height="17.1" fill="rgb(44,44,44)"/>
<rect x="100.7" y="1090.8" width="16" height="17.1" fill="rgb(52,52,52)"/>
<rect x="116.1" y="1090.8" width="16" height="17.1" fill="rgb(56,56,56)"/>
<rect x="131.4" y="1090.8" width="16" height="17.1" fill="rgb(52,52,52)"/>
<rect x="146.8" y="1090.8" width="16" height="17.1" fill="rgb(48,48,48)"/>
<rect x="162.1" y="1090.8" width="16" height="17.1" fill="rgb(44,44,44)"/>
<rect x="177.5" y="1090.8" width="16" height="17.1" fill="rgb(38,38,38)"/>
<rect x="192.8" y="1090.8" width="16" height="17.1" fill="rgb(34,34,34)"/>
<rect x="39.3" y="1107.3" width="16" height="17.1" fill="rgb(28,28,28)"/>
<rect x="54.7" y="1107.3" width="16" height="17.1" fill="rgb(36,36,36)"/>
<rect x="70" y="1107.3" width="16" height="17.1" fill="rgb(56,56,56)"/>
<rect x="85.4" y="1107.3" width="16" height="17.1" fill="rgb(72,72,72)"/>
<rect x="100.7" y="1107.3" width="16" height="17.1" fill="rgb(88,88,88)"/>
<rect x="116.1" y="1107.3" width="16" height="17.1" fill="rgb(96,96,96)"/>
<rect x="131.4" y="1107.3" width="16" height="17.1" fill="rgb(92,92,92)"/>
<rect x="146.8" y="1107.3" width="16" height="17.1" fill="rgb(80,80,80)"/>
<rect x="162.1" y="1107.3" width="16" height="17.1" fill="rgb(64,64,64)"/>
<rect x="177.5" y="1107.3" width="16" height="17.1" fill="rgb(52,52,52)"/>
<rect x="192.8" y="1107.3" width="16" height="17.1" fill="rgb(44,44,44)"/>
<rect x="39.3" y="1123.8" width="16" height="17.1" fill="rgb(28,28,28)"/>
<rect x="54.7" y="1123.8" width="16" height="17.1" fill="rgb(44,44,44)"/>
<rect x="70" y="1123.8" width="16" height="17.1" fill="rgb(64,64,64)"/>
<rect x="85.4" y="1123.8" width="16" height="17.1" fill="rgb(88,88,88)"/>
<rect x="100.7" y="1123.8" width="16" height="17.1" fill="rgb(136,136,136)"/>
<rect x="116.1" y="1123.8" width="16" height="17.1" fill="rgb(144,144,144)"/>
<rect x="131.4" y="1123.8" width="16" height="17.1" fill="rgb(140,140,140)"/>
<rect x="146.8" y="1123.8" width="16" height="17.1" fill="rgb(112,112,112)"/>
<rect x="162.1" y="1123.8" width="16" height="17.1" fill="rgb(80,80,80)"/>
<rect x="177.5" y="1123.8" width="16" height="17.1" fill="rgb(60,60,60)"/>
<rect x="192.8" y="1123.8" width="16" height="17.1" fill="rgb(48,48,48)"/>
<rect x="39.3" y="1140.3" width="16" height="17.1" fill="rgb(32,32,32)"/>
<rect x="54.7" y="1140.3" width="16" height="17.1" fill="rgb(44,44,44)"/>
<rect x="70" y="1140.3" width="16" height="17.1" fill="rgb(72,72,72)"/>
<rect x="85.4" y="1140.3" width="16" height="17.1" fill="rgb(112,112,112)"/>
<rect x="100.7" y="1140.3" width="16" height="17.1" fill="rgb(160,160,160)"/>
<rect x="116.1" y="1140.3" width="16" height="17.1" fill="rgb(176,176,176)"/>
<rect x="131.4" y="1140.3" width="16" height="17.1" fill="rgb(168,168,168)"/>
<rect x="146.8" y="1140.3" width="16" height="17.1" fill="rgb(136,136,136)"/>
<rect x="162.1" y="1140.3" width="16" height="17.1" fill="rgb(96,96,96)"/>
<rect x="177.5" y="1140.3" width="16" height="17.1" fill="rgb(64,64,64)"/>
<rect x="192.8" y="1140.3" width="16" height="17.1" fill="rgb(48,48,48)"/>
<rect x="39.3" y="1156.8" width="16" height="17.1" fill="rgb(34,34,34)"/>
<rect x="54.7" y="1156.8" width="16" height="17.1" fill="rgb(46,46,46)"/>
<rect x="70" y="1156.8" width="16" height="17.1" fill="rgb(72,72,72)"/>
<rect x="85.4" y="1156.8" width="16" height="17.1" fill="rgb(120,120,120)"/>
<rect x="100.7" y="1156.8" width="16" height="17.1" fill="rgb(168,168,168)"/>
<rect x="116.1" y="1156.8" width="16" height="17.1" fill="rgb(184,184,184)"/>
<rect x="131.4" y="1156.8" width="16" height="17.1" fill="rgb(180,180,180)"/>
<rect x="146.8" y="1156.8" width="16" height="17.1" fill="rgb(136,136,136)"/>
<rect x="162.1" y="1156.8" width="16" height="17.1" fill="rgb(96,96,96)"/>
<rect x="177.5" y="1156.8" width="16" height="17.1" fill="rgb(72,72,72)"/>
<rect x="192.8" y="1156.8" width="16" height="17.1" fill="rgb(56,56,56)"/>
<rect x="39.3" y="1173.4" width="16" height="17.1" fill="rgb(30,30,30)"/>
<rect x="54.7" y="1173.4" width="16" height="17.1" fill="rgb(42,42,42)"/>
<rect x="70" y="1173.4" width="16" height="17.1" fill="rgb(64,64,64)"/>
<rect x="85.4" y="1173.4" width="16" height="17.1" fill="rgb(104,104,104)"/>
<rect x="100.7" y="1173.4" width="16" height="17.1" fill="rgb(160,160,160)"/>
<rect x="116.1" y="1173.4" width="16" height="17.1" fill="rgb(180,180,180)"/>
<rect x="131.4" y="1173.4" width="16" height="17.1" fill="rgb(176,176,176)"/>
<rect x="146.8" y="1173.4" width="16" height="17.1" fill="rgb(128,128,128)"/>
<rect x="162.1" y="1173.4" width="16" height="17.1" fill="rgb(88,88,88)"/>
<rect x="177.5" y="1173.4" width="16" height="17.1" fill="rgb(64,64,64)"/>
<rect x="192.8" y="1173.4" width="16" height="17.1" fill="rgb(48,48,48)"/>
<rect x="39.3" y="1189.9" width="16" height="17.1" fill="rgb(24,24,24)"/>
<rect x="54.7" y="1189.9" width="16" height="17.1" fill="rgb(32,32,32)"/>
<rect x="70" y="1189.9" width="16" height="17.1" fill="rgb(48,48,48)"/>
<rect x="85.4" y="1189.9" width="16" height="17.1" fill="rgb(80,80,80)"/>
<rect x="100.7" y="1189.9" width="16" height="17.1" fill="rgb(120,120,120)"/>
<rect x="116.1" y="1189.9" width="16" height="17.1" fill="rgb(152,152,152)"/>
<rect x="131.4" y="1189.9" width="16" height="17.1" fill="rgb(144,144,144)"/>
<rect x="146.8" y="1189.9" width="16" height="17.1" fill="rgb(104,104,104)"/>
<rect x="162.1" y="1189.9" width="16" height="17.1" fill="rgb(72,72,72)"/>
<rect x="177.5" y="1189.9" width="16" height="17.1" fill="rgb(52,52,52)"/>
<rect x="192.8" y="1189.9" width="16" height="17.1" fill="rgb(44,44,44)"/>
<rect x="39.3" y="1206.4" width="16" height="17.1" fill="rgb(16,16,16)"/>
<rect x="54.7" y="1206.4" width="16" height="17.1" fill="rgb(20,20,20)"/>
<rect x="70" y="1206.4" width="16" height="17.1" fill="rgb(28,28,28)"/>
<rect x="85.4" y="1206.4" width="16" height="17.1" fill="rgb(48,48,48)"/>
<rect x="100.7" y="1206.4" width="16" height="17.1" fill="rgb(64,64,64)"/>
<rect x="116.1" y="1206.4" width="16" height="17.1" fill="rgb(80,80,80)"/>
<rect x="131.4" y="1206.4" width="16" height="17.1" fill="rgb(80,80,80)"/>
<rect x="146.8" y="1206.4" width="16" height="17.1" fill="rgb(60,60,60)"/>
<rect x="162.1" y="1206.4" width="16" height="17.1" fill="rgb(44,44,44)"/>
<rect x="177.5" y="1206.4" width="16" height="17.1" fill="rgb(32,32,32)"/>
<rect x="192.8" y="1206.4" width="16" height="17.1" fill="rgb(28,28,28)"/>
<rect x="39.3" y="1222.9" width="16" height="17.1" fill="rgb(8,8,8)"/>
<rect x="54.7" y="1222.9" width="16" height="17.1" fill="rgb(8,8,8)"/>
<rect x="70" y="1222.9" width="16" height="17.1" fill="rgb(10,10,10)"/>
<rect x="85.4" y="1222.9" width="16" height="17.1" fill="rgb(22,22,22)"/>
<rect x="100.7" y="1222.9" width="16" height="17.1" fill="rgb(40,40,40)"/>
<rect x="116.1" y="1222.9" width="16" height="17.1" fill="rgb(48,48,48)"/>
<rect x="131.4" y="1222.9" width="16" height="17.1" fill="rgb(44,44,44)"/>
<rect x="146.8" y="1222.9" width="16" height="17.1" fill="rgb(36,36,36)"/>
<rect x="162.1" y="1222.9" width="16" height="17.1" fill="rgb(20,20,20)"/>
<rect x="177.5" y="1222.9" width="16" height="17.1" fill="rgb(16,16,16)"/>
<rect x="192.8" y="1222.9" width="16" height="17.1" fill="rgb(12,12,12)"/>
</g>
<rect x="39.3" y="1090.8" width="168.9" height="148.6" fill="none" stroke="#111" stroke-width="1"/>
<text x="46.3" y="1110.8" font-size="20" fill="#fff" textLength="96.3" lengthAdjust="spacingAndGlyphs" stroke="#fff" stroke-width="0.35" >0 Seconds</text>
<rect x="152.4" y="1226.4" width="47" height="4.2" fill="#fff"/>
<rect x="212.4" y="1091.4" width="10.1" height="148" fill="url(#cbar)" stroke="#111" stroke-width="1.3"/>
<text x="225" y="1098.5" font-size="20" fill="#111" stroke="#111" stroke-width="0.35" >60</text>
<line x1="220" y1="1091.5" x2="222.5" y2="1091.5" stroke="#111" stroke-width="1"/>
<text x="225" y="1133.6" font-size="20" fill="#111" stroke="#111" stroke-width="0.35" >50</text>
<line x1="220" y1="1126.6" x2="222.5" y2="1126.6" stroke="#111" stroke-width="1"/>
<text x="225" y="1166.9" font-size="20" fill="#111" stroke="#111" stroke-width="0.35" >40</text>
<line x1="220" y1="1159.9" x2="222.5" y2="1159.9" stroke="#111" stroke-width="1"/>
<text x="225" y="1201.2" font-size="20" fill="#111" stroke="#111" stroke-width="0.35" >30</text>
<line x1="220" y1="1194.2" x2="222.5" y2="1194.2" stroke="#111" stroke-width="1"/>
<text x="225" y="1237" font-size="20" fill="#111" stroke="#111" stroke-width="0.35" >20</text>
<line x1="220" y1="1230" x2="222.5" y2="1230" stroke="#111" stroke-width="1"/>
<text x="213.8" y="1259" font-size="19.5" fill="#111" textLength="39.2" lengthAdjust="spacingAndGlyphs" stroke="#111" stroke-width="0.35" >cts/s</text>
<text x="45.6" y="1098.5" font-size="40" fill="#e23a30" text-anchor="middle" font-weight="bold" stroke="#e23a30" stroke-width="0.35" >*</text>
<rect x="258.3" y="1090.8" width="168.9" height="148.6" fill="#222"/>
<g shape-rendering="crispEdges">
<rect x="258.3" y="1090.8" width="16" height="17.1" fill="rgb(44,44,44)"/>
<rect x="273.7" y="1090.8" width="16" height="17.1" fill="rgb(56,56,56)"/>
<rect x="289" y="1090.8" width="16" height="17.1" fill="rgb(64,64,64)"/>
<rect x="304.4" y="1090.8" width="16" height="17.1" fill="rgb(72,72,72)"/>
<rect x="319.7" y="1090.8" width="16" height="17.1" fill="rgb(80,80,80)"/>
<rect x="335.1" y="1090.8" width="16" height="17.1" fill="rgb(84,84,84)"/>
<rect x="350.4" y="1090.8" width="16" height="17.1" fill="rgb(80,80,80)"/>
<rect x="365.8" y="1090.8" width="16" height="17.1" fill="rgb(76,76,76)"/>
<rect x="381.1" y="1090.8" width="16" height="17.1" fill="rgb(68,68,68)"/>
<rect x="396.5" y="1090.8" width="16" height="17.1" fill="rgb(60,60,60)"/>
<rect x="411.8" y="1090.8" width="16" height="17.1" fill="rgb(52,52,52)"/>
<rect x="258.3" y="1107.3" width="16" height="17.1" fill="rgb(36,36,36)"/>
<rect x="273.7" y="1107.3" width="16" height="17.1" fill="rgb(52,52,52)"/>
<rect x="289" y="1107.3" width="16" height="17.1" fill="rgb(76,76,76)"/>
<rect x="304.4" y="1107.3" width="16" height="17.1" fill="rgb(96,96,96)"/>
<rect x="319.7" y="1107.3" width="16" height="17.1" fill="rgb(120,120,120)"/>
<rect x="335.1" y="1107.3" width="16" height="17.1" fill="rgb(128,128,128)"/>
<rect x="350.4" y="1107.3" width="16" height="17.1" fill="rgb(124,124,124)"/>
<rect x="365.8" y="1107.3" width="16" height="17.1" fill="rgb(108,108,108)"/>
<rect x="381.1" y="1107.3" width="16" height="17.1" fill="rgb(92,92,92)"/>
<rect x="396.5" y="1107.3" width="16" height="17.1" fill="rgb(80,80,80)"/>
<rect x="411.8" y="1107.3" width="16" height="17.1" fill="rgb(64,64,64)"/>
<rect x="258.3" y="1123.8" width="16" height="17.1" fill="rgb(48,48,48)"/>
<rect x="273.7" y="1123.8" width="16" height="17.1" fill="rgb(64,64,64)"/>
<rect x="289" y="1123.8" width="16" height="17.1" fill="rgb(96,96,96)"/>
<rect x="304.4" y="1123.8" width="16" height="17.1" fill="rgb(144,144,144)"/>
<rect x="319.7" y="1123.8" width="16" height="17.1" fill="rgb(192,192,192)"/>
<rect x="335.1" y="1123.8" width="16" height="17.1" fill="rgb(216,216,216)"/>
<rect x="350.4" y="1123.8" width="16" height="17.1" fill="rgb(208,208,208)"/>
<rect x="365.8" y="1123.8" width="16" height="17.1" fill="rgb(176,176,176)"/>
<rect x="381.1" y="1123.8" width="16" height="17.1" fill="rgb(136,136,136)"/>
<rect x="396.5" y="1123.8" width="16" height="17.1" fill="rgb(104,104,104)"/>
<rect x="411.8" y="1123.8" width="16" height="17.1" fill="rgb(80,80,80)"/>
<rect x="258.3" y="1140.3" width="16" height="17.1" fill="rgb(52,52,52)"/>
<rect x="273.7" y="1140.3" width="16" height="17.1" fill="rgb(80,80,80)"/>
<rect x="289" y="1140.3" width="16" height="17.1" fill="rgb(128,128,128)"/>
<rect x="304.4" y="1140.3" width="16" height="17.1" fill="rgb(208,208,208)"/>
<rect x="319.7" y="1140.3" width="16" height="17.1" fill="rgb(255,255,255)"/>
<rect x="335.1" y="1140.3" width="16" height="17.1" fill="rgb(255,255,255)"/>
<rect x="350.4" y="1140.3" width="16" height="17.1" fill="rgb(255,255,255)"/>
<rect x="365.8" y="1140.3" width="16" height="17.1" fill="rgb(232,232,232)"/>
<rect x="381.1" y="1140.3" width="16" height="17.1" fill="rgb(184,184,184)"/>
<rect x="396.5" y="1140.3" width="16" height="17.1" fill="rgb(136,136,136)"/>
<rect x="411.8" y="1140.3" width="16" height="17.1" fill="rgb(96,96,96)"/>
<rect x="258.3" y="1156.8" width="16" height="17.1" fill="rgb(56,56,56)"/>
<rect x="273.7" y="1156.8" width="16" height="17.1" fill="rgb(84,84,84)"/>
<rect x="289" y="1156.8" width="16" height="17.1" fill="rgb(144,144,144)"/>
<rect x="304.4" y="1156.8" width="16" height="17.1" fill="rgb(224,224,224)"/>
<rect x="319.7" y="1156.8" width="16" height="17.1" fill="rgb(255,255,255)"/>
<rect x="335.1" y="1156.8" width="16" height="17.1" fill="rgb(255,255,255)"/>
<rect x="350.4" y="1156.8" width="16" height="17.1" fill="rgb(255,255,255)"/>
<rect x="365.8" y="1156.8" width="16" height="17.1" fill="rgb(255,255,255)"/>
<rect x="381.1" y="1156.8" width="16" height="17.1" fill="rgb(208,208,208)"/>
<rect x="396.5" y="1156.8" width="16" height="17.1" fill="rgb(152,152,152)"/>
<rect x="411.8" y="1156.8" width="16" height="17.1" fill="rgb(104,104,104)"/>
<rect x="258.3" y="1173.4" width="16" height="17.1" fill="rgb(52,52,52)"/>
<rect x="273.7" y="1173.4" width="16" height="17.1" fill="rgb(80,80,80)"/>
<rect x="289" y="1173.4" width="16" height="17.1" fill="rgb(128,128,128)"/>
<rect x="304.4" y="1173.4" width="16" height="17.1" fill="rgb(216,216,216)"/>
<rect x="319.7" y="1173.4" width="16" height="17.1" fill="rgb(255,255,255)"/>
<rect x="335.1" y="1173.4" width="16" height="17.1" fill="rgb(255,255,255)"/>
<rect x="350.4" y="1173.4" width="16" height="17.1" fill="rgb(255,255,255)"/>
<rect x="365.8" y="1173.4" width="16" height="17.1" fill="rgb(240,240,240)"/>
<rect x="381.1" y="1173.4" width="16" height="17.1" fill="rgb(192,192,192)"/>
<rect x="396.5" y="1173.4" width="16" height="17.1" fill="rgb(144,144,144)"/>
<rect x="411.8" y="1173.4" width="16" height="17.1" fill="rgb(100,100,100)"/>
<rect x="258.3" y="1189.9" width="16" height="17.1" fill="rgb(40,40,40)"/>
<rect x="273.7" y="1189.9" width="16" height="17.1" fill="rgb(56,56,56)"/>
<rect x="289" y="1189.9" width="16" height="17.1" fill="rgb(88,88,88)"/>
<rect x="304.4" y="1189.9" width="16" height="17.1" fill="rgb(152,152,152)"/>
<rect x="319.7" y="1189.9" width="16" height="17.1" fill="rgb(208,208,208)"/>
<rect x="335.1" y="1189.9" width="16" height="17.1" fill="rgb(232,232,232)"/>
<rect x="350.4" y="1189.9" width="16" height="17.1" fill="rgb(216,216,216)"/>
<rect x="365.8" y="1189.9" width="16" height="17.1" fill="rgb(168,168,168)"/>
<rect x="381.1" y="1189.9" width="16" height="17.1" fill="rgb(128,128,128)"/>
<rect x="396.5" y="1189.9" width="16" height="17.1" fill="rgb(100,100,100)"/>
<rect x="411.8" y="1189.9" width="16" height="17.1" fill="rgb(80,80,80)"/>
<rect x="258.3" y="1206.4" width="16" height="17.1" fill="rgb(24,24,24)"/>
<rect x="273.7" y="1206.4" width="16" height="17.1" fill="rgb(32,32,32)"/>
<rect x="289" y="1206.4" width="16" height="17.1" fill="rgb(48,48,48)"/>
<rect x="304.4" y="1206.4" width="16" height="17.1" fill="rgb(80,80,80)"/>
<rect x="319.7" y="1206.4" width="16" height="17.1" fill="rgb(120,120,120)"/>
<rect x="335.1" y="1206.4" width="16" height="17.1" fill="rgb(136,136,136)"/>
<rect x="350.4" y="1206.4" width="16" height="17.1" fill="rgb(124,124,124)"/>
<rect x="365.8" y="1206.4" width="16" height="17.1" fill="rgb(96,96,96)"/>
<rect x="381.1" y="1206.4" width="16" height="17.1" fill="rgb(72,72,72)"/>
<rect x="396.5" y="1206.4" width="16" height="17.1" fill="rgb(60,60,60)"/>
<rect x="411.8" y="1206.4" width="16" height="17.1" fill="rgb(48,48,48)"/>
<rect x="258.3" y="1222.9" width="16" height="17.1" fill="rgb(12,12,12)"/>
<rect x="273.7" y="1222.9" width="16" height="17.1" fill="rgb(12,12,12)"/>
<rect x="289" y="1222.9" width="16" height="17.1" fill="rgb(16,16,16)"/>
<rect x="304.4" y="1222.9" width="16" height="17.1" fill="rgb(36,36,36)"/>
<rect x="319.7" y="1222.9" width="16" height="17.1" fill="rgb(56,56,56)"/>
<rect x="335.1" y="1222.9" width="16" height="17.1" fill="rgb(64,64,64)"/>
<rect x="350.4" y="1222.9" width="16" height="17.1" fill="rgb(56,56,56)"/>
<rect x="365.8" y="1222.9" width="16" height="17.1" fill="rgb(44,44,44)"/>
<rect x="381.1" y="1222.9" width="16" height="17.1" fill="rgb(24,24,24)"/>
<rect x="396.5" y="1222.9" width="16" height="17.1" fill="rgb(16,16,16)"/>
<rect x="411.8" y="1222.9" width="16" height="17.1" fill="rgb(16,16,16)"/>
</g>
<rect x="258.3" y="1090.8" width="168.9" height="148.6" fill="none" stroke="#111" stroke-width="1"/>
<text x="265.3" y="1110.8" font-size="20" fill="#fff" textLength="118.1" lengthAdjust="spacingAndGlyphs" stroke="#fff" stroke-width="0.35" >100 Seconds</text>
<rect x="431" y="1091.4" width="9.2" height="148" fill="url(#cbar)" stroke="#111" stroke-width="1.3"/>
<text x="442.3" y="1098.5" font-size="20" fill="#111" stroke="#111" stroke-width="0.35" >60</text>
<line x1="437.7" y1="1091.5" x2="440.2" y2="1091.5" stroke="#111" stroke-width="1"/>
<text x="442.3" y="1137.8" font-size="20" fill="#111" stroke="#111" stroke-width="0.35" >50</text>
<line x1="437.7" y1="1130.8" x2="440.2" y2="1130.8" stroke="#111" stroke-width="1"/>
<text x="442.3" y="1178.1" font-size="20" fill="#111" stroke="#111" stroke-width="0.35" >40</text>
<line x1="437.7" y1="1171.1" x2="440.2" y2="1171.1" stroke="#111" stroke-width="1"/>
<text x="442.3" y="1217.7" font-size="20" fill="#111" stroke="#111" stroke-width="0.35" >30</text>
<line x1="437.7" y1="1210.7" x2="440.2" y2="1210.7" stroke="#111" stroke-width="1"/>
<text x="428.3" y="1259" font-size="19.5" fill="#111" textLength="40.9" lengthAdjust="spacingAndGlyphs" stroke="#111" stroke-width="0.35" >cts/s</text>
<text x="266.1" y="1098.7" font-size="40" fill="#4a55b3" text-anchor="middle" font-weight="bold" stroke="#4a55b3" stroke-width="0.35" >*</text>
<rect x="470.2" y="1090.8" width="168.6" height="148.6" fill="#222"/>
<g shape-rendering="crispEdges">
<rect x="470.2" y="1090.8" width="15.9" height="17.1" fill="rgb(72,72,72)"/>
<rect x="485.5" y="1090.8" width="15.9" height="17.1" fill="rgb(66,66,66)"/>
<rect x="500.9" y="1090.8" width="15.9" height="17.1" fill="rgb(64,64,64)"/>
<rect x="516.2" y="1090.8" width="15.9" height="17.1" fill="rgb(72,72,72)"/>
<rect x="531.5" y="1090.8" width="15.9" height="17.1" fill="rgb(72,72,72)"/>
<rect x="546.8" y="1090.8" width="15.9" height="17.1" fill="rgb(72,72,72)"/>
<rect x="562.2" y="1090.8" width="15.9" height="17.1" fill="rgb(76,76,76)"/>
<rect x="577.5" y="1090.8" width="15.9" height="17.1" fill="rgb(72,72,72)"/>
<rect x="592.8" y="1090.8" width="15.9" height="17.1" fill="rgb(80,80,80)"/>
<rect x="608.1" y="1090.8" width="15.9" height="17.1" fill="rgb(90,90,90)"/>
<rect x="623.5" y="1090.8" width="15.9" height="17.1" fill="rgb(72,72,72)"/>
<rect x="470.2" y="1107.3" width="15.9" height="17.1" fill="rgb(64,64,64)"/>
<rect x="485.5" y="1107.3" width="15.9" height="17.1" fill="rgb(58,58,58)"/>
<rect x="500.9" y="1107.3" width="15.9" height="17.1" fill="rgb(56,56,56)"/>
<rect x="516.2" y="1107.3" width="15.9" height="17.1" fill="rgb(68,68,68)"/>
<rect x="531.5" y="1107.3" width="15.9" height="17.1" fill="rgb(68,68,68)"/>
<rect x="546.8" y="1107.3" width="15.9" height="17.1" fill="rgb(68,68,68)"/>
<rect x="562.2" y="1107.3" width="15.9" height="17.1" fill="rgb(80,80,80)"/>
<rect x="577.5" y="1107.3" width="15.9" height="17.1" fill="rgb(64,64,64)"/>
<rect x="592.8" y="1107.3" width="15.9" height="17.1" fill="rgb(72,72,72)"/>
<rect x="608.1" y="1107.3" width="15.9" height="17.1" fill="rgb(80,80,80)"/>
<rect x="623.5" y="1107.3" width="15.9" height="17.1" fill="rgb(72,72,72)"/>
<rect x="470.2" y="1123.8" width="15.9" height="17.1" fill="rgb(48,48,48)"/>
<rect x="485.5" y="1123.8" width="15.9" height="17.1" fill="rgb(48,48,48)"/>
<rect x="500.9" y="1123.8" width="15.9" height="17.1" fill="rgb(48,48,48)"/>
<rect x="516.2" y="1123.8" width="15.9" height="17.1" fill="rgb(64,64,64)"/>
<rect x="531.5" y="1123.8" width="15.9" height="17.1" fill="rgb(64,64,64)"/>
<rect x="546.8" y="1123.8" width="15.9" height="17.1" fill="rgb(44,44,44)"/>
<rect x="562.2" y="1123.8" width="15.9" height="17.1" fill="rgb(48,48,48)"/>
<rect x="577.5" y="1123.8" width="15.9" height="17.1" fill="rgb(64,64,64)"/>
<rect x="592.8" y="1123.8" width="15.9" height="17.1" fill="rgb(64,64,64)"/>
<rect x="608.1" y="1123.8" width="15.9" height="17.1" fill="rgb(68,68,68)"/>
<rect x="623.5" y="1123.8" width="15.9" height="17.1" fill="rgb(64,64,64)"/>
<rect x="470.2" y="1140.3" width="15.9" height="17.1" fill="rgb(40,40,40)"/>
<rect x="485.5" y="1140.3" width="15.9" height="17.1" fill="rgb(40,40,40)"/>
<rect x="500.9" y="1140.3" width="15.9" height="17.1" fill="rgb(44,44,44)"/>
<rect x="516.2" y="1140.3" width="15.9" height="17.1" fill="rgb(48,48,48)"/>
<rect x="531.5" y="1140.3" width="15.9" height="17.1" fill="rgb(60,60,60)"/>
<rect x="546.8" y="1140.3" width="15.9" height="17.1" fill="rgb(64,64,64)"/>
<rect x="562.2" y="1140.3" width="15.9" height="17.1" fill="rgb(72,72,72)"/>
<rect x="577.5" y="1140.3" width="15.9" height="17.1" fill="rgb(56,56,56)"/>
<rect x="592.8" y="1140.3" width="15.9" height="17.1" fill="rgb(48,48,48)"/>
<rect x="608.1" y="1140.3" width="15.9" height="17.1" fill="rgb(56,56,56)"/>
<rect x="623.5" y="1140.3" width="15.9" height="17.1" fill="rgb(56,56,56)"/>
<rect x="470.2" y="1156.8" width="15.9" height="17.1" fill="rgb(24,24,24)"/>
<rect x="485.5" y="1156.8" width="15.9" height="17.1" fill="rgb(26,26,26)"/>
<rect x="500.9" y="1156.8" width="15.9" height="17.1" fill="rgb(24,24,24)"/>
<rect x="516.2" y="1156.8" width="15.9" height="17.1" fill="rgb(56,56,56)"/>
<rect x="531.5" y="1156.8" width="15.9" height="17.1" fill="rgb(40,40,40)"/>
<rect x="546.8" y="1156.8" width="15.9" height="17.1" fill="rgb(56,56,56)"/>
<rect x="562.2" y="1156.8" width="15.9" height="17.1" fill="rgb(40,40,40)"/>
<rect x="577.5" y="1156.8" width="15.9" height="17.1" fill="rgb(48,48,48)"/>
<rect x="592.8" y="1156.8" width="15.9" height="17.1" fill="rgb(40,40,40)"/>
<rect x="608.1" y="1156.8" width="15.9" height="17.1" fill="rgb(48,48,48)"/>
<rect x="623.5" y="1156.8" width="15.9" height="17.1" fill="rgb(48,48,48)"/>
<rect x="470.2" y="1173.4" width="15.9" height="17.1" fill="rgb(26,26,26)"/>
<rect x="485.5" y="1173.4" width="15.9" height="17.1" fill="rgb(30,30,30)"/>
<rect x="500.9" y="1173.4" width="15.9" height="17.1" fill="rgb(32,32,32)"/>
<rect x="516.2" y="1173.4" width="15.9" height="17.1" fill="rgb(60,60,60)"/>
<rect x="531.5" y="1173.4" width="15.9" height="17.1" fill="rgb(48,48,48)"/>
<rect x="546.8" y="1173.4" width="15.9" height="17.1" fill="rgb(44,44,44)"/>
<rect x="562.2" y="1173.4" width="15.9" height="17.1" fill="rgb(40,40,40)"/>
<rect x="577.5" y="1173.4" width="15.9" height="17.1" fill="rgb(48,48,48)"/>
<rect x="592.8" y="1173.4" width="15.9" height="17.1" fill="rgb(40,40,40)"/>
<rect x="608.1" y="1173.4" width="15.9" height="17.1" fill="rgb(44,44,44)"/>
<rect x="623.5" y="1173.4" width="15.9" height="17.1" fill="rgb(56,56,56)"/>
<rect x="470.2" y="1189.9" width="15.9" height="17.1" fill="rgb(20,20,20)"/>
<rect x="485.5" y="1189.9" width="15.9" height="17.1" fill="rgb(26,26,26)"/>
<rect x="500.9" y="1189.9" width="15.9" height="17.1" fill="rgb(28,28,28)"/>
<rect x="516.2" y="1189.9" width="15.9" height="17.1" fill="rgb(24,24,24)"/>
<rect x="531.5" y="1189.9" width="15.9" height="17.1" fill="rgb(24,24,24)"/>
<rect x="546.8" y="1189.9" width="15.9" height="17.1" fill="rgb(24,24,24)"/>
<rect x="562.2" y="1189.9" width="15.9" height="17.1" fill="rgb(48,48,48)"/>
<rect x="577.5" y="1189.9" width="15.9" height="17.1" fill="rgb(44,44,44)"/>
<rect x="592.8" y="1189.9" width="15.9" height="17.1" fill="rgb(32,32,32)"/>
<rect x="608.1" y="1189.9" width="15.9" height="17.1" fill="rgb(28,28,28)"/>
<rect x="623.5" y="1189.9" width="15.9" height="17.1" fill="rgb(60,60,60)"/>
<rect x="470.2" y="1206.4" width="15.9" height="17.1" fill="rgb(14,14,14)"/>
<rect x="485.5" y="1206.4" width="15.9" height="17.1" fill="rgb(16,16,16)"/>
<rect x="500.9" y="1206.4" width="15.9" height="17.1" fill="rgb(26,26,26)"/>
<rect x="516.2" y="1206.4" width="15.9" height="17.1" fill="rgb(20,20,20)"/>
<rect x="531.5" y="1206.4" width="15.9" height="17.1" fill="rgb(32,32,32)"/>
<rect x="546.8" y="1206.4" width="15.9" height="17.1" fill="rgb(44,44,44)"/>
<rect x="562.2" y="1206.4" width="15.9" height="17.1" fill="rgb(32,32,32)"/>
<rect x="577.5" y="1206.4" width="15.9" height="17.1" fill="rgb(36,36,36)"/>
<rect x="592.8" y="1206.4" width="15.9" height="17.1" fill="rgb(32,32,32)"/>
<rect x="608.1" y="1206.4" width="15.9" height="17.1" fill="rgb(32,32,32)"/>
<rect x="623.5" y="1206.4" width="15.9" height="17.1" fill="rgb(24,24,24)"/>
<rect x="470.2" y="1222.9" width="15.9" height="17.1" fill="rgb(8,8,8)"/>
<rect x="485.5" y="1222.9" width="15.9" height="17.1" fill="rgb(16,16,16)"/>
<rect x="500.9" y="1222.9" width="15.9" height="17.1" fill="rgb(28,28,28)"/>
<rect x="516.2" y="1222.9" width="15.9" height="17.1" fill="rgb(16,16,16)"/>
<rect x="531.5" y="1222.9" width="15.9" height="17.1" fill="rgb(20,20,20)"/>
<rect x="546.8" y="1222.9" width="15.9" height="17.1" fill="rgb(24,24,24)"/>
<rect x="562.2" y="1222.9" width="15.9" height="17.1" fill="rgb(16,16,16)"/>
<rect x="577.5" y="1222.9" width="15.9" height="17.1" fill="rgb(28,28,28)"/>
<rect x="592.8" y="1222.9" width="15.9" height="17.1" fill="rgb(32,32,32)"/>
<rect x="608.1" y="1222.9" width="15.9" height="17.1" fill="rgb(48,48,48)"/>
<rect x="623.5" y="1222.9" width="15.9" height="17.1" fill="rgb(44,44,44)"/>
</g>
<rect x="470.2" y="1090.8" width="168.6" height="148.6" fill="none" stroke="#111" stroke-width="1"/>
<text x="475.8" y="1110.8" font-size="20" fill="#fff" textLength="118.8" lengthAdjust="spacingAndGlyphs" stroke="#fff" stroke-width="0.35" >300 Seconds</text>
<rect x="642.5" y="1091.4" width="9.9" height="148" fill="url(#cbar)" stroke="#111" stroke-width="1.3"/>
<text x="654.5" y="1110.8" font-size="20" fill="#111" stroke="#111" stroke-width="0.35" >9</text>
<line x1="649.9" y1="1103.8" x2="652.4" y2="1103.8" stroke="#111" stroke-width="1"/>
<text x="654.5" y="1145.1" font-size="20" fill="#111" stroke="#111" stroke-width="0.35" >7</text>
<line x1="649.9" y1="1138.1" x2="652.4" y2="1138.1" stroke="#111" stroke-width="1"/>
<text x="654.5" y="1180.2" font-size="20" fill="#111" stroke="#111" stroke-width="0.35" >5</text>
<line x1="649.9" y1="1173.2" x2="652.4" y2="1173.2" stroke="#111" stroke-width="1"/>
<text x="654.5" y="1214.9" font-size="20" fill="#111" stroke="#111" stroke-width="0.35" >3</text>
<line x1="649.9" y1="1207.9" x2="652.4" y2="1207.9" stroke="#111" stroke-width="1"/>
<text x="641.2" y="1259" font-size="19.5" fill="#111" textLength="41.4" lengthAdjust="spacingAndGlyphs" stroke="#111" stroke-width="0.35" >cts/s</text>
<text x="473.7" y="1098.5" font-size="40" fill="#2a7a3c" text-anchor="middle" font-weight="bold" stroke="#2a7a3c" stroke-width="0.35" >*</text>
</g>
<g id="panel-d">
<text x="3.2" y="1268.4" font-size="23" fill="#111" font-weight="bold" stroke="#111" stroke-width="0.35" >d</text>
<polyline points="101.8,1336 101.9,1283.5 102.8,1343.5 103.2,1294.8 103.6,1364.1 104.2,1358.9 104.9,1347 105.6,1374 106.3,1361.6 107,1339.8 107.7,1354.5 108.4,1389.2 109.1,1345 109.8,1390.7 110.5,1392.1 111.2,1356.6 111.9,1363.4 112.6,1357.8 113.3,1357 114,1354.8 114.7,1344.4 115.4,1371.5 116.1,1368 116.8,1374.4 117.5,1383.6 118.2,1381.7 118.9,1364.4 119.6,1368.3 120.3,1347.8 121,1371.9 121.7,1384.2 122.4,1395.3 123.1,1358.1 123.8,1348.7 124.5,1366.9 125.2,1363.3 125.9,1383.7 126.6,1389.9 127.3,1383.3 128,1398.6 128.7,1371.6 129.4,1405.8 130.1,1415.7 130.8,1365.3 131.5,1360.2 132.2,1390.1 132.9,1387.9 133.6,1377.2 134.3,1392.1 135,1368.1 135.7,1362.3 136.4,1394.6 137.1,1367.9 137.8,1382.9 138.5,1390.8 139.2,1391.3 139.9,1357.7 140.6,1360.2 141.3,1376.5 142,1353.6 142.7,1384.1 143.4,1379.5 144.1,1382 144.8,1357.2 145.5,1397.6 146.2,1359.5 146.9,1363.8 147.6,1375.2 148.3,1368.5 149,1368.6 149.7,1377.8 150.4,1345.9 151.1,1372.8 151.8,1378.3 152.5,1363.4 153.2,1349 153.9,1419.2 154.6,1372.1 155.3,1374.7 156,1345.8 156.7,1387 157.4,1382.3 158.1,1379.8 158.8,1362.8 159.5,1397.6 160.2,1365.4 160.9,1355.4 161.6,1384.7 162.3,1369.4 163,1362 163.7,1402.8 164.4,1376.8 165.1,1389.1 165.8,1375.3 166.5,1397.7 167.2,1396.6 167.9,1355.7 168.6,1373.7 169.3,1381.5 170,1390.4 170.7,1364.6 171.4,1344.7 172.1,1380.4 172.8,1376.7 173.5,1388.3 174.2,1370.3 174.9,1348.2 175.6,1347 176.3,1360.6 177,1381.9 177.7,1388.8 178.4,1359.7 179.1,1378.1 179.8,1399.4 180.5,1396.9 181.2,1400.4 181.9,1364.6 182.6,1365.9 183.3,1390 184,1379.6 184.7,1370.2 185.4,1394.4 186.1,1390.1 186.8,1369.8 187.5,1392.2 188.2,1368.9 188.9,1394.2 189.6,1374.1 190.3,1388.6 191,1408 191.7,1403.9 192.4,1391.5 193.1,1391.3 193.8,1405.2 194.5,1389.5 195.2,1375 195.9,1382 196.6,1390.2 197.3,1385.2 198,1408.5 198.7,1343.9 199.4,1389.3 200.1,1364.8 200.8,1384.6 201.5,1363.5 202.2,1352 202.9,1400.3 203.6,1397.7 204.3,1374.3 205,1392.6 205.7,1376.8 206.4,1374.8 207.1,1419.1 207.8,1380.7 208.5,1371.3 209.2,1352 209.9,1360.8 210.6,1374.3 211.3,1353.3 212,1389.5 212.7,1368.9 213.4,1383.8 214.1,1359.7 214.8,1385.7 215.5,1373.6 216.2,1362 216.9,1375.7 217.6,1374 218.3,1337.4 219,1356 219.7,1392.2 220.4,1380.8 221.1,1355.5 221.8,1369.6 222.5,1353.9 223.2,1379.3 223.9,1369.7 224.6,1339.4 225.3,1348.8 226,1373.5 226.7,1357.9 227.4,1361.8 228.1,1353.7 228.8,1354.2 229.5,1354.9 230.2,1363.6 230.9,1348.9 231.6,1366.6 232.3,1335.7 233,1355.4 233.7,1356.8 234.4,1366.2 235.1,1357.4 235.8,1366.7 236.5,1370.2 237.2,1345.4 237.9,1357.1 238.6,1347 239.3,1331.4 240,1321 240.7,1335.3 241.4,1357 242.1,1351.4 242.8,1382.9 243.5,1353.5 244.2,1345.2 244.9,1330 245.6,1322.6 246.3,1357.9 247,1341.5 247.7,1333.2 248.4,1342.5 249.1,1345.3 249.8,1348.5 250.5,1353.5 251.2,1357.8 251.9,1354.2 252.6,1326.1 253.3,1335.3 254,1334.2 254.7,1359.5 255.4,1350.3 256.1,1359.8 256.8,1336.1 257.5,1332.6 258.2,1361.9 258.9,1340.6 259.6,1347.1 260.3,1378.4 261,1344.5 261.7,1345.3 262.4,1354.6 263.1,1356.7 263.8,1347.2 264.5,1346.1 265.2,1358.5 265.9,1346.1 266.6,1346.3 267.3,1353.1 268,1346.2 268.7,1351.9 269.4,1354.8 270.1,1344.5 270.8,1343.3 271.5,1358.1 272.2,1339.9 272.9,1338.2 273.6,1345.5 274.3,1344.5 275,1350.8 275.7,1356.8 276.4,1354.2 277.1,1344.4 277.8,1338 278.5,1346.9 279.2,1332.1 279.9,1341.4 280.6,1349.6 281.3,1339.9 282,1339 282.7,1329.7 283.4,1336.9 284.1,1343.1 284.8,1330.2 285.5,1350.9 286.2,1326.4 286.9,1340.8 287.6,1353.4 288.3,1332.1 289,1334.3 289.7,1334.5 290.4,1357.9 291.1,1310.2 291.8,1339.9 292.5,1336.4 293.2,1321.2 293.9,1330.3 294.6,1340.6 295.3,1337.2 296,1325.8 296.7,1320.8 297.4,1338 298.1,1340 298.8,1322.2 299.5,1351.5 300.2,1326.9 300.9,1336.3 301.6,1345.2 302.3,1346.5 303,1334 303.7,1333.9 304.4,1342.7 305.1,1364.7 305.8,1344.6 306.5,1330.9 307.2,1338.3 307.9,1336.5 308.6,1338 309.3,1323.5 310,1338.1 310.7,1337.5 311.4,1336.6 312.1,1338.5 312.8,1331.5 313.5,1350.8 314.2,1349.9 314.9,1343.3 315.6,1345.8 316.3,1321.4 317,1353.2 317.7,1353.9 318.4,1342.3 319.1,1334.4 319.8,1347.2 320.5,1355.5 321.2,1341.4 321.9,1356.7 322.6,1326.7 323.3,1334.9 324,1351.1 324.7,1341.3 325.4,1331.3 326.1,1326.5 326.8,1347.5 327.5,1357 328.2,1343.2 328.9,1343.7 329.6,1332 330.3,1340.7 331,1351.2 331.7,1344.9 332.4,1349.1 333.1,1327 333.8,1343.6 334.5,1344.1 335.2,1345 335.9,1337.7 336.6,1340.1 337.3,1345.5 338,1344.6 338.7,1342.7 339.4,1349.1 340.1,1341.5 340.8,1344 341.5,1342.5 342.2,1346.4 342.9,1348.8 343.6,1349.4 344.3,1344.7 345,1342.4 345.7,1349.4 346.4,1349.7 347.1,1327.8 347.8,1343.6 348.5,1337.6 349.2,1340.6 349.9,1339.3 350.6,1343.6 351.3,1343.3 352,1333.3 352.7,1354.1 353.4,1339.5 354.1,1348.1 354.8,1345.7 355.5,1347.6 356.2,1350.5 356.9,1329.1 357.6,1340 358.3,1343 359,1346.5 359.7,1354 360.4,1346.3 361.1,1350.3 361.8,1355.1 362.5,1349.9 363.2,1357.9 363.9,1346.7 364.6,1354.2 365.3,1344.9 366,1344.6 366.7,1347.4 367.4,1353.5 368.1,1344.7 368.8,1350 369.5,1360.7 370.2,1351.8 370.9,1359.6 371.6,1338.6 372.3,1345.6 373,1362.8 373.7,1348.6 374.4,1349.9 375.1,1342.6 375.8,1346.4 376.5,1362.5 377.2,1354.8 377.9,1346.2 378.6,1348.6 379.3,1341.5 380,1344.1 380.7,1351 381.4,1337.7 382.1,1366.8 382.8,1346.6 383.5,1348.9 384.2,1352.9 384.9,1346.7 385.6,1354.1 386.3,1367.4 387,1351.2 387.7,1359.2 388.4,1355 389.1,1359.3 389.8,1346.8 390.5,1343.5 391.2,1372.2 391.9,1342.5 392.6,1352 393.3,1364.8 394,1367.8 394.7,1353.1 395.4,1349.4 396.1,1353.3 396.8,1345.6 397.5,1355.7 398.2,1349.1 398.9,1359.2 399.6,1350.5 400.3,1354.4 401,1351.8 401.7,1346.5 402.4,1352.9 403.1,1343.3 403.8,1346.2 404.5,1351.5 405.2,1353.4 405.9,1347.3 406.6,1348.4 407.3,1349.8 408,1352.6 408.7,1352.8 409.4,1354.9 410.1,1347.2 410.8,1353.1 411.5,1341.7 412.2,1334.7 412.9,1366 413.6,1361.2 414.3,1352.9 415,1345.3 415.7,1354 416.4,1346.9 417.1,1346.2 417.8,1344.5 418.5,1348.1 419.2,1349.9 419.9,1346 420.6,1342.8 421.3,1346.7 422,1340.7 422.7,1345.5 423.4,1336.8 424.1,1345.1 424.8,1354.4 425.5,1334.1 426.2,1336.8 426.9,1333 427.6,1335.3 428.3,1352 429,1348 429.7,1336.7 430.4,1340.8 431.1,1330.2 431.8,1338.9 432.5,1344.1 433.2,1346.3 433.9,1344.2 434.6,1346.6 435.3,1334.7 436,1333.7 436.7,1336 437.4,1346.4 438.1,1334.8 438.8,1335.1 439.5,1343.2 440.2,1344.5 440.9,1328 441.6,1333.1 442.3,1335.2 443,1336.3 443.7,1338.1 444.4,1352.9 445.1,1344.1 445.8,1336 446.5,1346 447.2,1350 447.9,1333.1 448.6,1330.1 449.3,1347.5 450,1332.9 450.7,1336.5 451.4,1331.1 452.1,1335.5 452.8,1331.1 453.5,1327.7 454.2,1328.6 454.9,1331.7 455.6,1338.4 456.3,1344.8 457,1327.1 457.7,1327.8 458.4,1327.5 459.1,1338.8 459.8,1317.7 460.5,1321.3 461.2,1331.9 461.9,1338.1 462.6,1340.2 463.3,1325.5 464,1333.7 464.7,1335.7 465.4,1345.2 466.1,1347.5 466.8,1345.1 467.5,1333.7 468.2,1338.3 468.9,1337 469.6,1339.6 470.3,1329.2 471,1333.3 471.7,1329.3 472.4,1330.3 473.1,1321.9 473.8,1332.4 474.5,1325.1 475.2,1322.7 475.9,1318.6 476.6,1319.7 477.3,1306.3 478,1310.8 478.7,1326.9 479.4,1320.2 480.1,1318 480.8,1323.5 481.5,1316.3 482.2,1318.5 482.9,1315.3 483.6,1317.8 484.3,1314.1 485,1321.5 485.7,1327.2 486.4,1313.7 487.1,1322.5 487.8,1316.4 488.5,1327.7 489.2,1329.5 489.9,1336.2 490.6,1329.3 491.3,1326.9 492,1330.8 492.7,1335.8 493.4,1330.5 494.1,1326.1 494.8,1323.9 495.5,1315.1 496.2,1320.9 496.9,1321.3 497.6,1320.4 498.3,1330.9 499,1315.2 499.7,1320.5 500.4,1322.2 501.1,1322.5 501.8,1326 502.5,1315.6 503.2,1333.1 503.7,1327.6 504.2,1332.4 504.7,1331.7 505.2,1330 505.7,1327.2 506.2,1325.5 506.7,1328 507.2,1330.3 507.7,1329.6 508.2,1324 508.7,1324.2 509.2,1328.5 509.7,1325.2 510.2,1324.7 510.7,1324.4 511.2,1325.2 511.7,1326.9 512.2,1324 512.7,1326.7 513.2,1318.3 513.7,1320.7 514.2,1326.6 514.7,1319.8 515.2,1322.5 515.7,1332.5 516.2,1323.1 516.7,1328.4 517.2,1327.1 517.7,1339.7 518.2,1337.3 518.7,1340.7 519.2,1344.5 519.7,1347.8 520.2,1348.1 520.7,1358.3 521.2,1359.6 521.7,1361.5 522.2,1359.5 522.7,1359.5 523.2,1355.5 523.7,1354.1 524.2,1352.5 524.7,1351.9 525.2,1348.3 525.7,1341.1 526.2,1338.6 526.7,1337.7 527.2,1336.3 527.7,1328.2 528.2,1332.5 528.7,1327 529.2,1324.1 529.7,1327.5 530.2,1323.8 530.7,1329.8 531.2,1324 531.7,1327.8 532.2,1335 532.7,1330.6 533.2,1338.3 533.7,1335.2 534.2,1345 534.7,1347.8 535.2,1351 535.7,1357.8 536.2,1361 536.7,1368.3 537.2,1369.2 537.7,1375.2 538.2,1377.8 538.7,1388.8 539.2,1378.1 539.7,1381.5 540.2,1385.7 540.7,1377.7 541.2,1373.3 541.7,1367.5 542.2,1369.5 542.7,1357 543.2,1357.3 543.7,1345 544.2,1348.1 544.7,1341.5 545.2,1341 545.7,1340.1 546.2,1330.9 546.7,1329.6 547.2,1326.5 547.7,1328.2 548.2,1332.7 548.7,1337.1 549.2,1336 549.7,1338.9 550.2,1343.1 550.7,1343.4 551.2,1349.4 551.7,1357 552.2,1362 552.7,1369.5 553.2,1375.2 553.7,1380.1 554.2,1385.7 554.7,1396.1 555.2,1403.2 555.7,1397.8 556.2,1403.8 556.7,1401.2 557.2,1408.2 557.7,1401.5 558.2,1396.4 558.7,1395.7 559.2,1386.9 559.7,1376.5 560.2,1368.4 560.7,1359.6 561.2,1359.8 561.7,1354.5 562.2,1342.2 562.7,1335.1 563.2,1332.4 563.7,1332.8 564.2,1323.6 564.7,1321.9 565.2,1322.2 565.7,1326.9 566.2,1328.2 566.7,1332.2 567.2,1343.4 567.7,1355.8 568.2,1359 568.7,1369 569.3,1345 570.2,1380 571.4,1430 572.7,1480 575,1550 577,1610 578.6,1655" fill="none" stroke="#0a0a0a" stroke-width="3.4" stroke-linejoin="round"/>
<polyline points="502.4,1329.3 503.3,1330.6 504.1,1331.9 504.9,1333.1 505.8,1333.8 506.6,1334.1 507.5,1333.8 508.3,1332.9 509.2,1331.5 510,1329.9 510.9,1328.2 511.7,1326.6 512.6,1325.4 513.4,1324.8 514.3,1325.1 515.1,1326.3 516,1328.4 516.8,1331.2 517.7,1334.7 518.5,1338.5 519.4,1342.4 520.2,1346 521,1349 521.9,1351.2 522.7,1352.2 523.6,1352.1 524.4,1350.8 525.3,1348.4 526.1,1345.1 527,1341.3 527.8,1337.4 528.7,1333.8 529.5,1331 530.4,1329.4 531.2,1329.1 532.1,1330.4 532.9,1333.4 533.8,1337.8 534.6,1343.3 535.4,1349.6 536.3,1356.1 537.1,1362.2 538,1367.3 538.8,1371 539.7,1373 540.5,1373.3 541.4,1371.7 542.2,1368 543.1,1362.6 543.9,1356.1 544.8,1349.1 545.6,1342.3 546.5,1336.6 547.3,1332.5 548.2,1330.8 549,1331.5 549.8,1334.8 550.7,1340.8 551.5,1349 552.4,1358.8 553.2,1369.3 554.1,1379.5 554.9,1388.6 555.8,1395.7 556.6,1399.9 557.5,1400.6 558.3,1397.6 559.2,1391.4 560,1382.6 560.9,1372 561.7,1360.6 562.6,1349.4 563.4,1339.5 564.3,1332 565.1,1327.6 565.9,1327 566.8,1331.8 567.6,1342 568.5,1356.6 569.3,1374 570.2,1392.5 570.4,1372 571.5,1405 572.4,1437" fill="none" stroke="#e23a30" stroke-width="1.5" stroke-linejoin="round"/>
<rect x="100.6" y="1281.3" width="511.1" height="375" fill="none" stroke="#111" stroke-width="3.3"/>
<line x1="100.6" y1="1636" x2="108.1" y2="1636" stroke="#111" stroke-width="2.7"/>
<line x1="611.7" y1="1636" x2="604.2" y2="1636" stroke="#111" stroke-width="2.7"/>
<text x="91.8" y="1644.2" font-size="23.2" fill="#111" text-anchor="end" stroke="#111" stroke-width="0.35" >80</text>
<line x1="100.6" y1="1598.5" x2="108.1" y2="1598.5" stroke="#111" stroke-width="2.7"/>
<line x1="611.7" y1="1598.5" x2="604.2" y2="1598.5" stroke="#111" stroke-width="2.7"/>
<text x="91.8" y="1606.7" font-size="23.2" fill="#111" text-anchor="end" stroke="#111" stroke-width="0.35" >100</text>
<line x1="100.6" y1="1561" x2="108.1" y2="1561" stroke="#111" stroke-width="2.7"/>
<line x1="611.7" y1="1561" x2="604.2" y2="1561" stroke="#111" stroke-width="2.7"/>
<text x="91.8" y="1569.2" font-size="23.2" fill="#111" text-anchor="end" stroke="#111" stroke-width="0.35" >120</text>
<line x1="100.6" y1="1523.5" x2="108.1" y2="1523.5" stroke="#111" stroke-width="2.7"/>
<line x1="611.7" y1="1523.5" x2="604.2" y2="1523.5" stroke="#111" stroke-width="2.7"/>
<text x="91.8" y="1531.7" font-size="23.2" fill="#111" text-anchor="end" stroke="#111" stroke-width="0.35" >140</text>
<line x1="100.6" y1="1486" x2="108.1" y2="1486" stroke="#111" stroke-width="2.7"/>
<line x1="611.7" y1="1486" x2="604.2" y2="1486" stroke="#111" stroke-width="2.7"/>
<text x="91.8" y="1494.2" font-size="23.2" fill="#111" text-anchor="end" stroke="#111" stroke-width="0.35" >160</text>
<line x1="100.6" y1="1448.5" x2="108.1" y2="1448.5" stroke="#111" stroke-width="2.7"/>
<line x1="611.7" y1="1448.5" x2="604.2" y2="1448.5" stroke="#111" stroke-width="2.7"/>
<text x="91.8" y="1456.7" font-size="23.2" fill="#111" text-anchor="end" stroke="#111" stroke-width="0.35" >180</text>
<line x1="100.6" y1="1411" x2="108.1" y2="1411" stroke="#111" stroke-width="2.7"/>
<line x1="611.7" y1="1411" x2="604.2" y2="1411" stroke="#111" stroke-width="2.7"/>
<text x="91.8" y="1419.2" font-size="23.2" fill="#111" text-anchor="end" stroke="#111" stroke-width="0.35" >200</text>
<line x1="100.6" y1="1373.5" x2="108.1" y2="1373.5" stroke="#111" stroke-width="2.7"/>
<line x1="611.7" y1="1373.5" x2="604.2" y2="1373.5" stroke="#111" stroke-width="2.7"/>
<text x="91.8" y="1381.7" font-size="23.2" fill="#111" text-anchor="end" stroke="#111" stroke-width="0.35" >220</text>
<line x1="100.6" y1="1336" x2="108.1" y2="1336" stroke="#111" stroke-width="2.7"/>
<line x1="611.7" y1="1336" x2="604.2" y2="1336" stroke="#111" stroke-width="2.7"/>
<text x="91.8" y="1344.2" font-size="23.2" fill="#111" text-anchor="end" stroke="#111" stroke-width="0.35" >240</text>
<line x1="100.6" y1="1298.5" x2="108.1" y2="1298.5" stroke="#111" stroke-width="2.7"/>
<line x1="611.7" y1="1298.5" x2="604.2" y2="1298.5" stroke="#111" stroke-width="2.7"/>
<text x="91.8" y="1306.7" font-size="23.2" fill="#111" text-anchor="end" stroke="#111" stroke-width="0.35" >260</text>
<line x1="571.7" y1="1656.3" x2="571.7" y2="1649.3" stroke="#111" stroke-width="2.7"/>
<line x1="571.7" y1="1281.3" x2="571.7" y2="1288.3" stroke="#111" stroke-width="2.7"/>
<text x="559.7" y="1680.3" font-size="22" fill="#111" text-anchor="middle" stroke="#111" stroke-width="0.35" >0</text>
<line x1="501.1" y1="1656.3" x2="501.1" y2="1649.3" stroke="#111" stroke-width="2.7"/>
<line x1="501.1" y1="1281.3" x2="501.1" y2="1288.3" stroke="#111" stroke-width="2.7"/>
<text x="501.1" y="1680.3" font-size="22" fill="#111" text-anchor="middle" stroke="#111" stroke-width="0.35" >1000</text>
<line x1="430.5" y1="1656.3" x2="430.5" y2="1649.3" stroke="#111" stroke-width="2.7"/>
<line x1="430.5" y1="1281.3" x2="430.5" y2="1288.3" stroke="#111" stroke-width="2.7"/>
<text x="430.5" y="1680.3" font-size="22" fill="#111" text-anchor="middle" stroke="#111" stroke-width="0.35" >2000</text>
<line x1="359.9" y1="1656.3" x2="359.9" y2="1649.3" stroke="#111" stroke-width="2.7"/>
<line x1="359.9" y1="1281.3" x2="359.9" y2="1288.3" stroke="#111" stroke-width="2.7"/>
<text x="359.9" y="1680.3" font-size="22" fill="#111" text-anchor="middle" stroke="#111" stroke-width="0.35" >3000</text>
<line x1="289.3" y1="1656.3" x2="289.3" y2="1649.3" stroke="#111" stroke-width="2.7"/>
<line x1="289.3" y1="1281.3" x2="289.3" y2="1288.3" stroke="#111" stroke-width="2.7"/>
<text x="289.3" y="1680.3" font-size="22" fill="#111" text-anchor="middle" stroke="#111" stroke-width="0.35" >4000</text>
<line x1="218.7" y1="1656.3" x2="218.7" y2="1649.3" stroke="#111" stroke-width="2.7"/>
<line x1="218.7" y1="1281.3" x2="218.7" y2="1288.3" stroke="#111" stroke-width="2.7"/>
<text x="218.7" y="1680.3" font-size="22" fill="#111" text-anchor="middle" stroke="#111" stroke-width="0.35" >5000</text>
<line x1="148.1" y1="1656.3" x2="148.1" y2="1649.3" stroke="#111" stroke-width="2.7"/>
<line x1="148.1" y1="1281.3" x2="148.1" y2="1288.3" stroke="#111" stroke-width="2.7"/>
<text x="148.1" y="1680.3" font-size="22" fill="#111" text-anchor="middle" stroke="#111" stroke-width="0.35" >6000</text>
<text x="175" y="1707.8" font-size="23" fill="#111" textLength="342" lengthAdjust="spacingAndGlyphs" stroke="#111" stroke-width="0.35" >Distance to Center of Target (nm)</text>
<text transform="translate(39.4 1475) rotate(-90)" text-anchor="middle" font-size="24" fill="#111" textLength="256.4" lengthAdjust="spacingAndGlyphs" stroke="#111" stroke-width="0.35">Integrated PSF Intensity</text>
<text x="113.9" y="1313.5" font-size="26" fill="#111" font-weight="bold" textLength="224.7" lengthAdjust="spacingAndGlyphs" stroke="#111" stroke-width="0.35" >Top-Down Milling</text>
<rect x="226.6" y="1410.4" width="250.4" height="196.8" fill="#fff"/>
<g clip-path="url(#inclip)">
<polyline points="228.9,1431.2 230.3,1432.1 231.8,1433 233.2,1434 234.7,1435 236.1,1435.9 237.6,1436.8 239,1437.7 240.5,1438.4 241.9,1439 243.4,1439.4 244.8,1439.6 246.3,1439.7 247.7,1439.5 249.2,1439.1 250.6,1438.4 252.1,1437.6 253.5,1436.7 255,1435.6 256.4,1434.4 257.9,1433.2 259.3,1432 260.8,1430.7 262.2,1429.6 263.7,1428.5 265.1,1427.6 266.6,1426.9 268,1426.4 269.5,1426.1 270.9,1426.4 272.4,1426.9 273.8,1427.7 275.3,1428.8 276.7,1430.3 278.2,1432 279.6,1434.1 281.1,1436.3 282.5,1438.8 284,1441.4 285.4,1444.2 286.9,1447 288.3,1449.9 289.8,1452.6 291.2,1455.3 292.7,1457.7 294.1,1460 295.6,1461.9 297,1463.6 298.5,1464.8 299.9,1465.6 301.4,1466 302.8,1466.1 304.2,1465.6 305.7,1464.7 307.1,1463.4 308.6,1461.7 310,1459.7 311.5,1457.3 312.9,1454.8 314.4,1452 315.8,1449.2 317.3,1446.3 318.7,1443.5 320.2,1440.9 321.6,1438.5 323.1,1436.4 324.5,1434.7 326,1433.4 327.4,1432.6 328.9,1432.4 330.3,1432.6 331.8,1433.5 333.2,1434.9 334.7,1437 336.1,1439.6 337.6,1442.7 339,1446.3 340.5,1450.2 341.9,1454.5 343.4,1459.1 344.8,1463.8 346.3,1468.5 347.7,1473.1 349.2,1477.6 350.6,1481.8 352.1,1485.6 353.5,1488.9 355,1491.7 356.4,1493.9 357.9,1495.4 359.3,1496.3 360.8,1496.7 362.2,1496.4 363.7,1495.3 365.1,1493.5 366.6,1490.9 368,1487.7 369.5,1483.9 370.9,1479.6 372.4,1474.9 373.8,1469.9 375.2,1464.8 376.7,1459.7 378.1,1454.8 379.6,1450.1 381,1445.8 382.5,1442.1 383.9,1439.1 385.4,1436.8 386.8,1435.3 388.3,1434.8 389.7,1435.1 391.2,1436.4 392.6,1438.7 394.1,1441.9 395.5,1446.1 397,1451.2 398.4,1457.1 399.9,1463.6 401.3,1470.6 402.8,1478 404.2,1485.6 405.7,1493.2 407.1,1500.8 408.6,1508 410,1514.7 411.5,1520.7 412.9,1526 414.4,1530.3 415.8,1533.6 417.3,1535.8 418.7,1536.5 420.2,1535.8 421.6,1533.8 423.1,1530.6 424.5,1526.3 426,1520.9 427.4,1514.7 428.9,1507.7 430.3,1500 431.8,1492 433.2,1483.6 434.7,1475.3 436.1,1467.1 437.6,1459.3 439,1452 440.5,1445.5 441.9,1439.8 443.4,1435.3 444.8,1431.8 446.2,1429.7 447.7,1428.8 449.1,1429.9 450.6,1433.1 452,1438.3 453.5,1445.5 454.9,1454.3 456.4,1464.7 457.8,1476.3 459.3,1488.8 460.7,1502 462.2,1515.4 463.6,1528.8 465.1,1541.8 466.5,1554 468,1565.2 469.4,1575.1 470.9,1583.4 472.3,1589.9 473.8,1594.5 475.2,1597 476.7,1597.4 478.1,1595.6" fill="none" stroke="#4a5cc0" stroke-width="1.2" stroke-dasharray="6 2.6"/>
<polyline points="228.9,1501.9 230.3,1502.8 231.8,1503.7 233.2,1504.7 234.7,1505.7 236.1,1506.6 237.6,1507.6 239,1508.4 240.5,1509.1 241.9,1509.7 243.4,1510.1 244.8,1510.4 246.3,1510.4 247.7,1510.3 249.2,1509.8 250.6,1509.2 252.1,1508.3 253.5,1507.4 255,1506.3 256.4,1505.2 257.9,1503.9 259.3,1502.7 260.8,1501.5 262.2,1500.3 263.7,1499.2 265.1,1498.3 266.6,1497.6 268,1497.1 269.5,1496.8 270.9,1497.1 272.4,1497.6 273.8,1498.4 275.3,1499.6 276.7,1501 278.2,1502.8 279.6,1504.8 281.1,1507.1 282.5,1509.5 284,1512.2 285.4,1514.9 286.9,1517.7 288.3,1520.6 289.8,1523.3 291.2,1526 292.7,1528.5 294.1,1530.7 295.6,1532.7 297,1534.3 298.5,1535.5 299.9,1536.4 301.4,1536.8 302.8,1536.8 304.2,1536.3 305.7,1535.4 307.1,1534.1 308.6,1532.4 310,1530.4 311.5,1528.1 312.9,1525.5 314.4,1522.7 315.8,1519.9 317.3,1517 318.7,1514.2 320.2,1511.6 321.6,1509.2 323.1,1507.1 324.5,1505.4 326,1504.1 327.4,1503.3 328.9,1503.1 330.3,1503.4 331.8,1504.2 333.2,1505.7 334.7,1507.7 336.1,1510.3 337.6,1513.4 339,1517 340.5,1521 341.9,1525.3 343.4,1529.8 344.8,1534.5 346.3,1539.2 347.7,1543.8 349.2,1548.3 350.6,1552.5 352.1,1556.3 353.5,1559.7 355,1562.5 356.4,1564.7 357.9,1566.2 359.3,1567 360.8,1567.5 362.2,1567.1 363.7,1566 365.1,1564.2 366.6,1561.6 368,1558.4 369.5,1554.6 370.9,1550.3 372.4,1545.6 373.8,1540.6 375.2,1535.6 376.7,1530.5 378.1,1525.5 379.6,1520.8 381,1516.6 382.5,1512.8 383.9,1509.8 385.4,1507.5 386.8,1506 388.3,1505.5 389.7,1505.8 391.2,1507.1 392.6,1509.4 394.1,1512.7 395.5,1516.9 397,1521.9 398.4,1527.8 399.9,1534.3 401.3,1541.3 402.8,1548.7 404.2,1556.3 405.7,1564 407.1,1571.5 408.6,1578.7 410,1585.4 411.5,1591.5 412.9,1596.7 414.4,1601.1 415.8,1604.3 417.3,1606.5 418.7,1607.3 420.2,1606.5 421.6,1604.5 423.1,1601.3 424.5,1597 426,1591.7 427.4,1585.4 428.9,1578.4 430.3,1570.7 431.8,1562.7 433.2,1554.4 434.7,1546 436.1,1537.8 437.6,1530 439,1522.7 440.5,1516.2 441.9,1510.6 443.4,1506 444.8,1502.5 446.2,1500.4 447.7,1499.6 449.1,1500.6 450.6,1503.8 452,1509.1 453.5,1516.2 454.9,1525.1 456.4,1535.4 457.8,1547 459.3,1559.5 460.7,1572.7 462.2,1586.1 463.6,1599.5 465.1,1612.5 466.5,1624.7 468,1635.9 469.4,1645.8 470.9,1654.1 472.3,1660.7 473.8,1665.2 475.2,1667.7 476.7,1668.1 478.1,1666.3" fill="none" stroke="#4a5cc0" stroke-width="1.2" stroke-dasharray="6 2.6"/>
<circle cx="231.8" cy="1472.1" r="1.7" fill="#555" stroke="#222" stroke-width="0.7"/>
<circle cx="233.3" cy="1478.7" r="1.7" fill="#555" stroke="#222" stroke-width="0.7"/>
<circle cx="235.7" cy="1467.6" r="1.7" fill="#555" stroke="#222" stroke-width="0.7"/>
<circle cx="237.3" cy="1484.4" r="1.7" fill="#555" stroke="#222" stroke-width="0.7"/>
<circle cx="239.3" cy="1473.1" r="1.7" fill="#555" stroke="#222" stroke-width="0.7"/>
<circle cx="241.5" cy="1473.6" r="1.7" fill="#555" stroke="#222" stroke-width="0.7"/>
<circle cx="243.2" cy="1463.3" r="1.7" fill="#555" stroke="#222" stroke-width="0.7"/>
<circle cx="245.7" cy="1469.8" r="1.7" fill="#555" stroke="#222" stroke-width="0.7"/>
<circle cx="247.7" cy="1451.2" r="1.7" fill="#555" stroke="#222" stroke-width="0.7"/>
<circle cx="249" cy="1468.1" r="1.7" fill="#555" stroke="#222" stroke-width="0.7"/>
<circle cx="250.8" cy="1475.1" r="1.7" fill="#555" stroke="#222" stroke-width="0.7"/>
<circle cx="253.6" cy="1473.2" r="1.7" fill="#555" stroke="#222" stroke-width="0.7"/>
<circle cx="255.4" cy="1457.6" r="1.7" fill="#555" stroke="#222" stroke-width="0.7"/>
<circle cx="257.6" cy="1457.2" r="1.7" fill="#555" stroke="#222" stroke-width="0.7"/>
<circle cx="259.9" cy="1465.4" r="1.7" fill="#555" stroke="#222" stroke-width="0.7"/>
<circle cx="260.8" cy="1469.4" r="1.7" fill="#555" stroke="#222" stroke-width="0.7"/>
<circle cx="263.5" cy="1470.2" r="1.7" fill="#555" stroke="#222" stroke-width="0.7"/>
<circle cx="265.4" cy="1464.9" r="1.7" fill="#555" stroke="#222" stroke-width="0.7"/>
<circle cx="267.8" cy="1448" r="1.7" fill="#555" stroke="#222" stroke-width="0.7"/>
<circle cx="269.8" cy="1458.2" r="1.7" fill="#555" stroke="#222" stroke-width="0.7"/>
<circle cx="271" cy="1456.9" r="1.7" fill="#555" stroke="#222" stroke-width="0.7"/>
<circle cx="272.8" cy="1444.5" r="1.7" fill="#555" stroke="#222" stroke-width="0.7"/>
<circle cx="275" cy="1463.3" r="1.7" fill="#555" stroke="#222" stroke-width="0.7"/>
<circle cx="277.1" cy="1475.4" r="1.7" fill="#555" stroke="#222" stroke-width="0.7"/>
<circle cx="280" cy="1483.1" r="1.7" fill="#555" stroke="#222" stroke-width="0.7"/>
<circle cx="281.9" cy="1471.1" r="1.7" fill="#555" stroke="#222" stroke-width="0.7"/>
<circle cx="282.8" cy="1469.2" r="1.7" fill="#555" stroke="#222" stroke-width="0.7"/>
<circle cx="285.6" cy="1484.7" r="1.7" fill="#555" stroke="#222" stroke-width="0.7"/>
<circle cx="287.5" cy="1500.9" r="1.7" fill="#555" stroke="#222" stroke-width="0.7"/>
<circle cx="289.6" cy="1472.6" r="1.7" fill="#555" stroke="#222" stroke-width="0.7"/>
<circle cx="292.1" cy="1482.9" r="1.7" fill="#555" stroke="#222" stroke-width="0.7"/>
<circle cx="292.7" cy="1487" r="1.7" fill="#555" stroke="#222" stroke-width="0.7"/>
<circle cx="295.5" cy="1506.1" r="1.7" fill="#555" stroke="#222" stroke-width="0.7"/>
<circle cx="297.1" cy="1498.5" r="1.7" fill="#555" stroke="#222" stroke-width="0.7"/>
<circle cx="299.9" cy="1508" r="1.7" fill="#555" stroke="#222" stroke-width="0.7"/>
<circle cx="301.3" cy="1507.1" r="1.7" fill="#555" stroke="#222" stroke-width="0.7"/>
<circle cx="303.9" cy="1498" r="1.7" fill="#555" stroke="#222" stroke-width="0.7"/>
<circle cx="304.9" cy="1494.9" r="1.7" fill="#555" stroke="#222" stroke-width="0.7"/>
<circle cx="307.7" cy="1503.1" r="1.7" fill="#555" stroke="#222" stroke-width="0.7"/>
<circle cx="310.1" cy="1498.5" r="1.7" fill="#555" stroke="#222" stroke-width="0.7"/>
<circle cx="312.1" cy="1486.8" r="1.7" fill="#555" stroke="#222" stroke-width="0.7"/>
<circle cx="313.7" cy="1500" r="1.7" fill="#555" stroke="#222" stroke-width="0.7"/>
<circle cx="315.2" cy="1492.5" r="1.7" fill="#555" stroke="#222" stroke-width="0.7"/>
<circle cx="316.8" cy="1496.1" r="1.7" fill="#555" stroke="#222" stroke-width="0.7"/>
<circle cx="319.6" cy="1459.2" r="1.7" fill="#555" stroke="#222" stroke-width="0.7"/>
<circle cx="321.4" cy="1475.5" r="1.7" fill="#555" stroke="#222" stroke-width="0.7"/>
<circle cx="323" cy="1478.7" r="1.7" fill="#555" stroke="#222" stroke-width="0.7"/>
<circle cx="325.9" cy="1468.4" r="1.7" fill="#555" stroke="#222" stroke-width="0.7"/>
<circle cx="327" cy="1466.8" r="1.7" fill="#555" stroke="#222" stroke-width="0.7"/>
<circle cx="329.1" cy="1465.5" r="1.7" fill="#555" stroke="#222" stroke-width="0.7"/>
<circle cx="331.1" cy="1481.8" r="1.7" fill="#555" stroke="#222" stroke-width="0.7"/>
<circle cx="334.2" cy="1470.2" r="1.7" fill="#555" stroke="#222" stroke-width="0.7"/>
<circle cx="335.9" cy="1476.3" r="1.7" fill="#555" stroke="#222" stroke-width="0.7"/>
<circle cx="338" cy="1472" r="1.7" fill="#555" stroke="#222" stroke-width="0.7"/>
<circle cx="340.2" cy="1492.7" r="1.7" fill="#555" stroke="#222" stroke-width="0.7"/>
<circle cx="340.9" cy="1473.8" r="1.7" fill="#555" stroke="#222" stroke-width="0.7"/>
<circle cx="343.2" cy="1499.3" r="1.7" fill="#555" stroke="#222" stroke-width="0.7"/>
<circle cx="344.9" cy="1498.7" r="1.7" fill="#555" stroke="#222" stroke-width="0.7"/>
<circle cx="347.5" cy="1508.1" r="1.7" fill="#555" stroke="#222" stroke-width="0.7"/>
<circle cx="350" cy="1517.1" r="1.7" fill="#555" stroke="#222" stroke-width="0.7"/>
<circle cx="351.1" cy="1514.3" r="1.7" fill="#555" stroke="#222" stroke-width="0.7"/>
<circle cx="353.4" cy="1538.2" r="1.7" fill="#555" stroke="#222" stroke-width="0.7"/>
<circle cx="355.7" cy="1540.3" r="1.7" fill="#555" stroke="#222" stroke-width="0.7"/>
<circle cx="357.9" cy="1537.5" r="1.7" fill="#555" stroke="#222" stroke-width="0.7"/>
<circle cx="359.6" cy="1533.8" r="1.7" fill="#555" stroke="#222" stroke-width="0.7"/>
<circle cx="362.3" cy="1519.8" r="1.7" fill="#555" stroke="#222" stroke-width="0.7"/>
<circle cx="363.3" cy="1529.5" r="1.7" fill="#555" stroke="#222" stroke-width="0.7"/>
<circle cx="365.5" cy="1528.7" r="1.7" fill="#555" stroke="#222" stroke-width="0.7"/>
<circle cx="367.4" cy="1518.8" r="1.7" fill="#555" stroke="#222" stroke-width="0.7"/>
<circle cx="370" cy="1525.3" r="1.7" fill="#555" stroke="#222" stroke-width="0.7"/>
<circle cx="371.8" cy="1497.3" r="1.7" fill="#555" stroke="#222" stroke-width="0.7"/>
<circle cx="374.2" cy="1508" r="1.7" fill="#555" stroke="#222" stroke-width="0.7"/>
<circle cx="376.2" cy="1495.4" r="1.7" fill="#555" stroke="#222" stroke-width="0.7"/>
<circle cx="377.7" cy="1490.7" r="1.7" fill="#555" stroke="#222" stroke-width="0.7"/>
<circle cx="380.2" cy="1476.8" r="1.7" fill="#555" stroke="#222" stroke-width="0.7"/>
<circle cx="382.2" cy="1485.8" r="1.7" fill="#555" stroke="#222" stroke-width="0.7"/>
<circle cx="383.6" cy="1478.8" r="1.7" fill="#555" stroke="#222" stroke-width="0.7"/>
<circle cx="386.1" cy="1464" r="1.7" fill="#555" stroke="#222" stroke-width="0.7"/>
<circle cx="388.1" cy="1467.4" r="1.7" fill="#555" stroke="#222" stroke-width="0.7"/>
<circle cx="389.4" cy="1464" r="1.7" fill="#555" stroke="#222" stroke-width="0.7"/>
<circle cx="391.6" cy="1461.6" r="1.7" fill="#555" stroke="#222" stroke-width="0.7"/>
<circle cx="393.1" cy="1471.9" r="1.7" fill="#555" stroke="#222" stroke-width="0.7"/>
<circle cx="395.3" cy="1480.5" r="1.7" fill="#555" stroke="#222" stroke-width="0.7"/>
<circle cx="397.7" cy="1490.4" r="1.7" fill="#555" stroke="#222" stroke-width="0.7"/>
<circle cx="400.3" cy="1500.6" r="1.7" fill="#555" stroke="#222" stroke-width="0.7"/>
<circle cx="401.4" cy="1510.6" r="1.7" fill="#555" stroke="#222" stroke-width="0.7"/>
<circle cx="404.1" cy="1522.1" r="1.7" fill="#555" stroke="#222" stroke-width="0.7"/>
<circle cx="406.4" cy="1538" r="1.7" fill="#555" stroke="#222" stroke-width="0.7"/>
<circle cx="407.9" cy="1545.4" r="1.7" fill="#555" stroke="#222" stroke-width="0.7"/>
<circle cx="410" cy="1535.8" r="1.7" fill="#555" stroke="#222" stroke-width="0.7"/>
<circle cx="411.7" cy="1573.4" r="1.7" fill="#555" stroke="#222" stroke-width="0.7"/>
<circle cx="414.3" cy="1570.8" r="1.7" fill="#555" stroke="#222" stroke-width="0.7"/>
<circle cx="415.6" cy="1580" r="1.7" fill="#555" stroke="#222" stroke-width="0.7"/>
<circle cx="417.1" cy="1571.5" r="1.7" fill="#555" stroke="#222" stroke-width="0.7"/>
<circle cx="420" cy="1574" r="1.7" fill="#555" stroke="#222" stroke-width="0.7"/>
<circle cx="421.6" cy="1577.3" r="1.7" fill="#555" stroke="#222" stroke-width="0.7"/>
<circle cx="424.4" cy="1554.4" r="1.7" fill="#555" stroke="#222" stroke-width="0.7"/>
<circle cx="426" cy="1574.2" r="1.7" fill="#555" stroke="#222" stroke-width="0.7"/>
<circle cx="428" cy="1543.8" r="1.7" fill="#555" stroke="#222" stroke-width="0.7"/>
<circle cx="430.4" cy="1535.2" r="1.7" fill="#555" stroke="#222" stroke-width="0.7"/>
<circle cx="432.4" cy="1519.1" r="1.7" fill="#555" stroke="#222" stroke-width="0.7"/>
<circle cx="433.8" cy="1526.4" r="1.7" fill="#555" stroke="#222" stroke-width="0.7"/>
<circle cx="435.6" cy="1495.3" r="1.7" fill="#555" stroke="#222" stroke-width="0.7"/>
<circle cx="437.9" cy="1491.8" r="1.7" fill="#555" stroke="#222" stroke-width="0.7"/>
<circle cx="439.8" cy="1489.4" r="1.7" fill="#555" stroke="#222" stroke-width="0.7"/>
<circle cx="442.2" cy="1469.7" r="1.7" fill="#555" stroke="#222" stroke-width="0.7"/>
<circle cx="444.4" cy="1472.8" r="1.7" fill="#555" stroke="#222" stroke-width="0.7"/>
<circle cx="445.5" cy="1463.8" r="1.7" fill="#555" stroke="#222" stroke-width="0.7"/>
<circle cx="447.3" cy="1465.6" r="1.7" fill="#555" stroke="#222" stroke-width="0.7"/>
<circle cx="450.2" cy="1475" r="1.7" fill="#555" stroke="#222" stroke-width="0.7"/>
<circle cx="452" cy="1483.3" r="1.7" fill="#555" stroke="#222" stroke-width="0.7"/>
<circle cx="453.1" cy="1478.1" r="1.7" fill="#555" stroke="#222" stroke-width="0.7"/>
<circle cx="456.4" cy="1508.4" r="1.7" fill="#555" stroke="#222" stroke-width="0.7"/>
<circle cx="457.5" cy="1507.8" r="1.7" fill="#555" stroke="#222" stroke-width="0.7"/>
<circle cx="459.3" cy="1522" r="1.7" fill="#555" stroke="#222" stroke-width="0.7"/>
<circle cx="461.5" cy="1553.7" r="1.7" fill="#555" stroke="#222" stroke-width="0.7"/>
<circle cx="463.6" cy="1556.8" r="1.7" fill="#555" stroke="#222" stroke-width="0.7"/>
<circle cx="465.6" cy="1589.8" r="1.7" fill="#555" stroke="#222" stroke-width="0.7"/>
<polyline points="228.9,1466.6 230.3,1467.4 231.8,1468.4 233.2,1469.3 234.7,1470.3 236.1,1471.3 237.6,1472.2 239,1473 240.5,1473.7 241.9,1474.3 243.4,1474.8 244.8,1475 246.3,1475.1 247.7,1474.9 249.2,1474.4 250.6,1473.8 252.1,1473 253.5,1472 255,1471 256.4,1469.8 257.9,1468.6 259.3,1467.3 260.8,1466.1 262.2,1464.9 263.7,1463.9 265.1,1463 266.6,1462.2 268,1461.7 269.5,1461.5 270.9,1461.7 272.4,1462.2 273.8,1463.1 275.3,1464.2 276.7,1465.7 278.2,1467.4 279.6,1469.4 281.1,1471.7 282.5,1474.2 284,1476.8 285.4,1479.6 286.9,1482.4 288.3,1485.2 289.8,1488 291.2,1490.6 292.7,1493.1 294.1,1495.3 295.6,1497.3 297,1498.9 298.5,1500.2 299.9,1501 301.4,1501.4 302.8,1501.4 304.2,1501 305.7,1500.1 307.1,1498.8 308.6,1497.1 310,1495 311.5,1492.7 312.9,1490.1 314.4,1487.4 315.8,1484.5 317.3,1481.7 318.7,1478.9 320.2,1476.2 321.6,1473.8 323.1,1471.7 324.5,1470 326,1468.7 327.4,1468 328.9,1467.7 330.3,1468 331.8,1468.8 333.2,1470.3 334.7,1472.3 336.1,1474.9 337.6,1478 339,1481.6 340.5,1485.6 341.9,1489.9 343.4,1494.4 344.8,1499.1 346.3,1503.8 347.7,1508.5 349.2,1512.9 350.6,1517.1 352.1,1521 353.5,1524.3 355,1527.1 356.4,1529.3 357.9,1530.8 359.3,1531.7 360.8,1532.1 362.2,1531.8 363.7,1530.7 365.1,1528.8 366.6,1526.3 368,1523 369.5,1519.2 370.9,1514.9 372.4,1510.2 373.8,1505.3 375.2,1500.2 376.7,1495.1 378.1,1490.1 379.6,1485.5 381,1481.2 382.5,1477.5 383.9,1474.4 385.4,1472.1 386.8,1470.7 388.3,1470.2 389.7,1470.5 391.2,1471.8 392.6,1474 394.1,1477.3 395.5,1481.5 397,1486.6 398.4,1492.4 399.9,1498.9 401.3,1506 402.8,1513.3 404.2,1521 405.7,1528.6 407.1,1536.1 408.6,1543.3 410,1550 411.5,1556.1 412.9,1561.4 414.4,1565.7 415.8,1569 417.3,1571.1 418.7,1571.9 420.2,1571.1 421.6,1569.1 423.1,1566 424.5,1561.6 426,1556.3 427.4,1550 428.9,1543 430.3,1535.4 431.8,1527.3 433.2,1519 434.7,1510.7 436.1,1502.5 437.6,1494.7 439,1487.4 440.5,1480.8 441.9,1475.2 443.4,1470.6 444.8,1467.2 446.2,1465 447.7,1464.2 449.1,1465.3 450.6,1468.5 452,1473.7 453.5,1480.8 454.9,1489.7 456.4,1500.1 457.8,1511.6 459.3,1524.2 460.7,1537.3 462.2,1550.8 463.6,1564.1 465.1,1577.1 466.5,1589.4 468,1600.6 469.4,1610.5 470.9,1618.8 472.3,1625.3 473.8,1629.9 475.2,1632.4 476.7,1632.7 478.1,1630.9" fill="none" stroke="#e2382c" stroke-width="3.9" stroke-linejoin="round"/>
</g>
<rect x="226.6" y="1410.4" width="250.4" height="196.8" fill="none" stroke="#111" stroke-width="2.4"/>
<line x1="226.6" y1="1593.4" x2="232.1" y2="1593.4" stroke="#111" stroke-width="2"/>
<line x1="477" y1="1593.4" x2="471.5" y2="1593.4" stroke="#111" stroke-width="2"/>
<text x="186.5" y="1600.6" font-size="20" fill="#111" textLength="38.5" lengthAdjust="spacingAndGlyphs" stroke="#111" stroke-width="0.35" >240</text>
<line x1="226.6" y1="1566.2" x2="232.1" y2="1566.2" stroke="#111" stroke-width="2"/>
<line x1="477" y1="1566.2" x2="471.5" y2="1566.2" stroke="#111" stroke-width="2"/>
<text x="186.5" y="1573.4" font-size="20" fill="#111" textLength="38.5" lengthAdjust="spacingAndGlyphs" stroke="#111" stroke-width="0.35" >250</text>
<line x1="226.6" y1="1539" x2="232.1" y2="1539" stroke="#111" stroke-width="2"/>
<line x1="477" y1="1539" x2="471.5" y2="1539" stroke="#111" stroke-width="2"/>
<text x="186.5" y="1546.2" font-size="20" fill="#111" textLength="38.5" lengthAdjust="spacingAndGlyphs" stroke="#111" stroke-width="0.35" >260</text>
<line x1="226.6" y1="1511.8" x2="232.1" y2="1511.8" stroke="#111" stroke-width="2"/>
<line x1="477" y1="1511.8" x2="471.5" y2="1511.8" stroke="#111" stroke-width="2"/>
<text x="186.5" y="1519" font-size="20" fill="#111" textLength="38.5" lengthAdjust="spacingAndGlyphs" stroke="#111" stroke-width="0.35" >270</text>
<line x1="226.6" y1="1484.6" x2="232.1" y2="1484.6" stroke="#111" stroke-width="2"/>
<line x1="477" y1="1484.6" x2="471.5" y2="1484.6" stroke="#111" stroke-width="2"/>
<text x="186.5" y="1491.8" font-size="20" fill="#111" textLength="38.5" lengthAdjust="spacingAndGlyphs" stroke="#111" stroke-width="0.35" >280</text>
<line x1="226.6" y1="1457.4" x2="232.1" y2="1457.4" stroke="#111" stroke-width="2"/>
<line x1="477" y1="1457.4" x2="471.5" y2="1457.4" stroke="#111" stroke-width="2"/>
<text x="186.5" y="1464.6" font-size="20" fill="#111" textLength="38.5" lengthAdjust="spacingAndGlyphs" stroke="#111" stroke-width="0.35" >290</text>
<line x1="226.6" y1="1430.2" x2="232.1" y2="1430.2" stroke="#111" stroke-width="2"/>
<line x1="477" y1="1430.2" x2="471.5" y2="1430.2" stroke="#111" stroke-width="2"/>
<text x="186.5" y="1437.4" font-size="20" fill="#111" textLength="38.5" lengthAdjust="spacingAndGlyphs" stroke="#111" stroke-width="0.35" >300</text>
<line x1="470.4" y1="1607.2" x2="470.4" y2="1601.7" stroke="#111" stroke-width="2"/>
<line x1="470.4" y1="1410.4" x2="470.4" y2="1415.9" stroke="#111" stroke-width="2"/>
<line x1="446.2" y1="1607.2" x2="446.2" y2="1601.7" stroke="#111" stroke-width="2"/>
<line x1="446.2" y1="1410.4" x2="446.2" y2="1415.9" stroke="#111" stroke-width="2"/>
<line x1="422.1" y1="1607.2" x2="422.1" y2="1601.7" stroke="#111" stroke-width="2"/>
<line x1="422.1" y1="1410.4" x2="422.1" y2="1415.9" stroke="#111" stroke-width="2"/>
<line x1="397.9" y1="1607.2" x2="397.9" y2="1601.7" stroke="#111" stroke-width="2"/>
<line x1="397.9" y1="1410.4" x2="397.9" y2="1415.9" stroke="#111" stroke-width="2"/>
<line x1="373.8" y1="1607.2" x2="373.8" y2="1601.7" stroke="#111" stroke-width="2"/>
<line x1="373.8" y1="1410.4" x2="373.8" y2="1415.9" stroke="#111" stroke-width="2"/>
<line x1="349.6" y1="1607.2" x2="349.6" y2="1601.7" stroke="#111" stroke-width="2"/>
<line x1="349.6" y1="1410.4" x2="349.6" y2="1415.9" stroke="#111" stroke-width="2"/>
<line x1="325.5" y1="1607.2" x2="325.5" y2="1601.7" stroke="#111" stroke-width="2"/>
<line x1="325.5" y1="1410.4" x2="325.5" y2="1415.9" stroke="#111" stroke-width="2"/>
<line x1="301.4" y1="1607.2" x2="301.4" y2="1601.7" stroke="#111" stroke-width="2"/>
<line x1="301.4" y1="1410.4" x2="301.4" y2="1415.9" stroke="#111" stroke-width="2"/>
<line x1="277.2" y1="1607.2" x2="277.2" y2="1601.7" stroke="#111" stroke-width="2"/>
<line x1="277.2" y1="1410.4" x2="277.2" y2="1415.9" stroke="#111" stroke-width="2"/>
<line x1="253" y1="1607.2" x2="253" y2="1601.7" stroke="#111" stroke-width="2"/>
<line x1="253" y1="1410.4" x2="253" y2="1415.9" stroke="#111" stroke-width="2"/>
<text x="470.4" y="1626.5" font-size="20" fill="#111" text-anchor="middle" stroke="#111" stroke-width="0.35" >0</text>
<text x="373.8" y="1626.5" font-size="20" fill="#111" text-anchor="middle" stroke="#111" stroke-width="0.35" >400</text>
<text x="277.2" y="1626.5" font-size="20" fill="#111" text-anchor="middle" stroke="#111" stroke-width="0.35" >800</text>
<text x="210.3" y="1644.2" font-size="20.3" fill="#111" textLength="303.4" lengthAdjust="spacingAndGlyphs" stroke="#111" stroke-width="0.35" >Distance to Center of Target (nm)</text>
<text transform="translate(182.6 1516) rotate(-90)" text-anchor="middle" font-size="21.5" fill="#111" textLength="219.6" lengthAdjust="spacingAndGlyphs" stroke="#111" stroke-width="0.35">Integrated PSF Intensity</text>
<text x="247.1" y="1548.4" font-size="17.5" fill="#111" textLength="130.3" lengthAdjust="spacingAndGlyphs" stroke="#111" stroke-width="0.35" >l = 484 ± 2.25 nm</text>
<circle cx="249.6" cy="1566.3" r="1.7" fill="#555" stroke="#222" stroke-width="0.7"/>
<text x="265" y="1569.9" font-size="17.5" fill="#111" textLength="98.6" lengthAdjust="spacingAndGlyphs" stroke="#111" stroke-width="0.35" >Experimental</text>
<line x1="233.3" y1="1583.2" x2="260.3" y2="1583.2" stroke="#e2382c" stroke-width="3.8"/>
<text x="265" y="1588.3" font-size="17.5" fill="#111" stroke="#111" stroke-width="0.35" >Fit</text>
<line x1="233.3" y1="1597" x2="259.9" y2="1597" stroke="#3a4ab8" stroke-width="3" stroke-dasharray="3 1.8"/>
<text x="265" y="1602.1" font-size="17.5" fill="#111" textLength="186.5" lengthAdjust="spacingAndGlyphs" stroke="#111" stroke-width="0.35" >Prediction bounds - 99%</text>
</g>
</svg>
</body></html>
